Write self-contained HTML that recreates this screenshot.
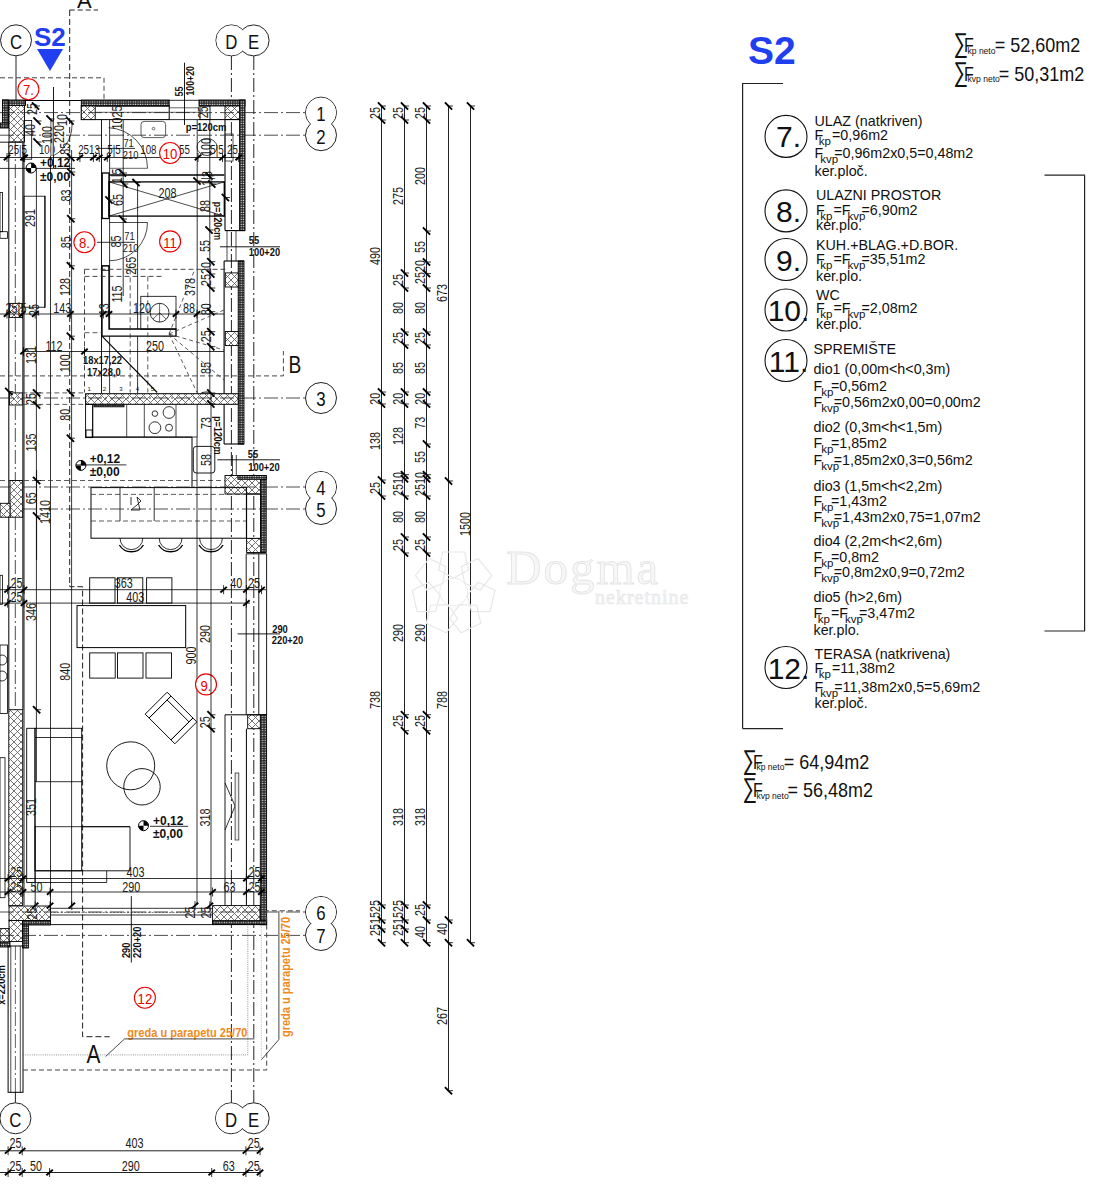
<!DOCTYPE html>
<html><head><meta charset="utf-8"><style>
html,body{margin:0;padding:0;background:#fff;width:1108px;height:1200px;overflow:hidden}
svg{display:block}
text{font-family:"Liberation Sans",sans-serif}
</style></head><body>
<svg width="1108" height="1200" viewBox="0 0 1108 1200">
<defs>
<pattern id="xh" width="7" height="7" patternUnits="userSpaceOnUse"><rect width="7" height="7" fill="#fff"/><path d="M0 0L7 7M7 0L0 7" stroke="#666" stroke-width="0.9"/></pattern>
<pattern id="dots" width="2.4" height="2.4" patternUnits="userSpaceOnUse"><rect width="2.4" height="2.4" fill="#222"/><rect x="0.6" y="0.6" width="1.2" height="1.1" fill="#fff"/></pattern>
</defs>
<rect x="0" y="0" width="1108" height="1200" fill="#fff"/>
<text x="748" y="64" font-size="39" fill="#1f3ff0" text-anchor="start" font-weight="bold">S2</text>
<g transform="translate(953.5 52.4) scale(0.75 1)"><text x="0" y="0" font-size="27" fill="#111">∑</text></g>
<text x="964.0" y="52.4" font-size="20" fill="#111" transform="translate(964.0 52.4) scale(0.8 1) translate(-964.0 -52.4)">F</text>
<g transform="translate(967.5 53.9) scale(0.9 1)"><text x="0" y="0" font-size="9.5" fill="#111">kp neto</text></g>
<g transform="translate(994.8 52.4) scale(0.9 1)"><text x="0" y="0" font-size="20" fill="#111">= 52,60m2</text></g>
<g transform="translate(953.5 80.7) scale(0.75 1)"><text x="0" y="0" font-size="27" fill="#111">∑</text></g>
<text x="964.0" y="80.7" font-size="20" fill="#111" transform="translate(964.0 80.7) scale(0.8 1) translate(-964.0 -80.7)">F</text>
<g transform="translate(967.5 82.2) scale(0.9 1)"><text x="0" y="0" font-size="9.5" fill="#111">kvp neto</text></g>
<g transform="translate(998.7 80.7) scale(0.9 1)"><text x="0" y="0" font-size="20" fill="#111">= 50,31m2</text></g>
<line x1="742.6" y1="83" x2="742.6" y2="728.6" stroke="#222" stroke-width="1.2"/>
<line x1="742.6" y1="83.5" x2="783" y2="83.5" stroke="#222" stroke-width="1.2"/>
<line x1="742.6" y1="728.6" x2="783" y2="728.6" stroke="#222" stroke-width="1.2"/>
<line x1="1084.6" y1="175.2" x2="1084.6" y2="631" stroke="#222" stroke-width="1.2"/>
<line x1="1044.5" y1="175.2" x2="1085" y2="175.2" stroke="#222" stroke-width="1.2"/>
<line x1="1044.5" y1="631" x2="1085" y2="631" stroke="#222" stroke-width="1.2"/>
<circle cx="786" cy="136.4" r="21" stroke="#111" stroke-width="1.1" fill="none"/>
<text x="788.5" y="147.4" font-size="30" fill="#111" text-anchor="middle">7.</text>
<text x="814.5" y="126.3" font-size="14.3" fill="#111" text-anchor="start" font-weight="normal">ULAZ (natkriven)</text>
<text x="814.5" y="140.4" fill="#111"><tspan font-size="14.3" dy="0" dx="0">F</tspan><tspan font-size="11.5" dy="5" dx="-4.5">kp</tspan><tspan font-size="14.3" dy="-5" dx="1.1">=0,96m2</tspan></text>
<text x="814.5" y="158.2" fill="#111"><tspan font-size="14.3" dy="0" dx="0">F</tspan><tspan font-size="11.5" dy="5" dx="-3.0">kvp</tspan><tspan font-size="14.3" dy="-5" dx="-4.0">=0,96m2x0,5=0,48m2</tspan></text>
<text x="814.5" y="175.6" font-size="14.3" fill="#111" text-anchor="start" font-weight="normal">ker.ploč.</text>
<circle cx="786" cy="210.9" r="21" stroke="#111" stroke-width="1.1" fill="none"/>
<text x="788.5" y="221.9" font-size="30" fill="#111" text-anchor="middle">8.</text>
<text x="816.0" y="200.4" font-size="14.3" fill="#111" text-anchor="start" font-weight="normal">ULAZNI PROSTOR</text>
<text x="816.0" y="215" fill="#111"><tspan font-size="14.3" dy="0" dx="0">F</tspan><tspan font-size="11.5" dy="5" dx="-4.5">kp</tspan><tspan font-size="14.3" dy="-5" dx="1.1">=F</tspan><tspan font-size="11.5" dy="5" dx="-3.0">kvp</tspan><tspan font-size="14.3" dy="-5" dx="-4.0">=6,90m2</tspan></text>
<text x="816.0" y="230.2" font-size="14.3" fill="#111" text-anchor="start" font-weight="normal">ker.plo.</text>
<circle cx="786" cy="259.5" r="21" stroke="#111" stroke-width="1.1" fill="none"/>
<text x="788.5" y="270.5" font-size="30" fill="#111" text-anchor="middle">9.</text>
<text x="816.0" y="249.5" font-size="14.3" fill="#111" text-anchor="start" font-weight="normal">KUH.+BLAG.+D.BOR.</text>
<text x="816.0" y="263.6" fill="#111"><tspan font-size="14.3" dy="0" dx="0">F</tspan><tspan font-size="11.5" dy="5" dx="-4.5">kp</tspan><tspan font-size="14.3" dy="-5" dx="1.1">=F</tspan><tspan font-size="11.5" dy="5" dx="-3.0">kvp</tspan><tspan font-size="14.3" dy="-5" dx="-4.0">=35,51m2</tspan></text>
<text x="816.0" y="280.7" font-size="14.3" fill="#111" text-anchor="start" font-weight="normal">ker.plo.</text>
<circle cx="786" cy="310" r="21" stroke="#111" stroke-width="1.1" fill="none"/>
<text x="788.5" y="321" font-size="30" fill="#111" text-anchor="middle">10.</text>
<text x="816.0" y="299.5" font-size="14.3" fill="#111" text-anchor="start" font-weight="normal">WC</text>
<text x="816.0" y="313" fill="#111"><tspan font-size="14.3" dy="0" dx="0">F</tspan><tspan font-size="11.5" dy="5" dx="-4.5">kp</tspan><tspan font-size="14.3" dy="-5" dx="1.1">=F</tspan><tspan font-size="11.5" dy="5" dx="-3.0">kvp</tspan><tspan font-size="14.3" dy="-5" dx="-4.0">=2,08m2</tspan></text>
<text x="816.0" y="328.8" font-size="14.3" fill="#111" text-anchor="start" font-weight="normal">ker.plo.</text>
<circle cx="786" cy="360.5" r="21" stroke="#111" stroke-width="1.1" fill="none"/>
<text x="788.5" y="371.5" font-size="30" fill="#111" text-anchor="middle">11.</text>
<text x="813.5" y="353.5" font-size="14.3" fill="#111" text-anchor="start" font-weight="normal">SPREMIŠTE</text>
<text x="813.5" y="374.4" font-size="14.3" fill="#111" text-anchor="start" font-weight="normal">dio1 (0,00m&lt;h&lt;0,3m)</text>
<text x="813.5" y="390.8" fill="#111"><tspan font-size="14.3" dy="0" dx="0">F</tspan><tspan font-size="11.5" dy="5" dx="-1.0">kp</tspan><tspan font-size="14.3" dy="-5" dx="-2.5">=0,56m2</tspan></text>
<text x="813.5" y="407.3" fill="#111"><tspan font-size="14.3" dy="0" dx="0">F</tspan><tspan font-size="11.5" dy="5" dx="-1.0">kvp</tspan><tspan font-size="14.3" dy="-5" dx="-5.5">=0,56m2x0,00=0,00m2</tspan></text>
<text x="813.5" y="431.9" font-size="14.3" fill="#111" text-anchor="start" font-weight="normal">dio2 (0,3m&lt;h&lt;1,5m)</text>
<text x="813.5" y="448.3" fill="#111"><tspan font-size="14.3" dy="0" dx="0">F</tspan><tspan font-size="11.5" dy="5" dx="-1.0">kp</tspan><tspan font-size="14.3" dy="-5" dx="-2.5">=1,85m2</tspan></text>
<text x="813.5" y="464.8" fill="#111"><tspan font-size="14.3" dy="0" dx="0">F</tspan><tspan font-size="11.5" dy="5" dx="-1.0">kvp</tspan><tspan font-size="14.3" dy="-5" dx="-5.5">=1,85m2x0,3=0,56m2</tspan></text>
<text x="813.5" y="490.6" font-size="14.3" fill="#111" text-anchor="start" font-weight="normal">dio3 (1,5m&lt;h&lt;2,2m)</text>
<text x="813.5" y="505.8" fill="#111"><tspan font-size="14.3" dy="0" dx="0">F</tspan><tspan font-size="11.5" dy="5" dx="-1.0">kp</tspan><tspan font-size="14.3" dy="-5" dx="-2.5">=1,43m2</tspan></text>
<text x="813.5" y="522.3" fill="#111"><tspan font-size="14.3" dy="0" dx="0">F</tspan><tspan font-size="11.5" dy="5" dx="-1.0">kvp</tspan><tspan font-size="14.3" dy="-5" dx="-5.5">=1,43m2x0,75=1,07m2</tspan></text>
<text x="813.5" y="545.7" font-size="14.3" fill="#111" text-anchor="start" font-weight="normal">dio4 (2,2m&lt;h&lt;2,6m)</text>
<text x="813.5" y="562.1" fill="#111"><tspan font-size="14.3" dy="0" dx="0">F</tspan><tspan font-size="11.5" dy="5" dx="-1.0">kp</tspan><tspan font-size="14.3" dy="-5" dx="-2.5">=0,8m2</tspan></text>
<text x="813.5" y="577.4" fill="#111"><tspan font-size="14.3" dy="0" dx="0">F</tspan><tspan font-size="11.5" dy="5" dx="-1.0">kvp</tspan><tspan font-size="14.3" dy="-5" dx="-5.5">=0,8m2x0,9=0,72m2</tspan></text>
<text x="813.5" y="601.7" font-size="14.3" fill="#111" text-anchor="start" font-weight="normal">dio5 (h&gt;2,6m)</text>
<text x="813.5" y="617.7" fill="#111"><tspan font-size="14.3" dy="0" dx="0">F</tspan><tspan font-size="11.5" dy="5" dx="-4.5">kp</tspan><tspan font-size="14.3" dy="-5" dx="1.1">=F</tspan><tspan font-size="11.5" dy="5" dx="-3.0">kvp</tspan><tspan font-size="14.3" dy="-5" dx="-4.0">=3,47m2</tspan></text>
<text x="813.5" y="635" font-size="14.3" fill="#111" text-anchor="start" font-weight="normal">ker.plo.</text>
<circle cx="786" cy="667.5" r="21" stroke="#111" stroke-width="1.1" fill="none"/>
<text x="788.5" y="678.5" font-size="30" fill="#111" text-anchor="middle">12.</text>
<text x="814.5" y="658.5" font-size="14.3" fill="#111" text-anchor="start" font-weight="normal">TERASA (natkrivena)</text>
<text x="814.5" y="672.8" fill="#111"><tspan font-size="14.3" dy="0" dx="0">F</tspan><tspan font-size="11.5" dy="5" dx="-4.5">kp</tspan><tspan font-size="14.3" dy="-5" dx="1.1">=11,38m2</tspan></text>
<text x="814.5" y="691.9" fill="#111"><tspan font-size="14.3" dy="0" dx="0">F</tspan><tspan font-size="11.5" dy="5" dx="-3.0">kvp</tspan><tspan font-size="14.3" dy="-5" dx="-4.0">=11,38m2x0,5=5,69m2</tspan></text>
<text x="814.5" y="707.6" font-size="14.3" fill="#111" text-anchor="start" font-weight="normal">ker.ploč.</text>
<g transform="translate(742.4 768.7) scale(0.75 1)"><text x="0" y="0" font-size="27" fill="#111">∑</text></g>
<text x="752.9" y="768.7" font-size="20" fill="#111" transform="translate(752.9 768.7) scale(0.8 1) translate(-752.9 -768.7)">F</text>
<g transform="translate(756.4 770.2) scale(0.9 1)"><text x="0" y="0" font-size="9.5" fill="#111">kp neto</text></g>
<g transform="translate(783.6999999999999 768.7) scale(0.9 1)"><text x="0" y="0" font-size="20" fill="#111">= 64,94m2</text></g>
<g transform="translate(742.4 797) scale(0.75 1)"><text x="0" y="0" font-size="27" fill="#111">∑</text></g>
<text x="752.9" y="797" font-size="20" fill="#111" transform="translate(752.9 797) scale(0.8 1) translate(-752.9 -797)">F</text>
<g transform="translate(756.4 798.5) scale(0.9 1)"><text x="0" y="0" font-size="9.5" fill="#111">kvp neto</text></g>
<g transform="translate(787.6 797) scale(0.9 1)"><text x="0" y="0" font-size="20" fill="#111">= 56,48m2</text></g>
<line x1="381.5" y1="106" x2="381.5" y2="942.7" stroke="#222" stroke-width="1"/>
<line x1="404.5" y1="106" x2="404.5" y2="942.7" stroke="#222" stroke-width="1"/>
<line x1="426.5" y1="106" x2="426.5" y2="942.7" stroke="#222" stroke-width="1"/>
<line x1="470.5" y1="106" x2="470.5" y2="942.7" stroke="#222" stroke-width="1"/>
<line x1="448.5" y1="106" x2="448.5" y2="1090.7" stroke="#222" stroke-width="1"/>
<line x1="377.9" y1="102.4" x2="385.1" y2="109.6" stroke="#000" stroke-width="1.9"/>
<line x1="380.5" y1="106" x2="386.0" y2="106" stroke="#000" stroke-width="0.8"/>
<line x1="377.9" y1="116.4" x2="385.1" y2="123.6" stroke="#000" stroke-width="1.9"/>
<line x1="380.5" y1="120" x2="386.0" y2="120" stroke="#000" stroke-width="0.8"/>
<line x1="377.9" y1="388.4" x2="385.1" y2="395.6" stroke="#000" stroke-width="1.9"/>
<line x1="380.5" y1="392" x2="386.0" y2="392" stroke="#000" stroke-width="0.8"/>
<line x1="377.9" y1="400.4" x2="385.1" y2="407.6" stroke="#000" stroke-width="1.9"/>
<line x1="380.5" y1="404" x2="386.0" y2="404" stroke="#000" stroke-width="0.8"/>
<line x1="377.9" y1="476.4" x2="385.1" y2="483.6" stroke="#000" stroke-width="1.9"/>
<line x1="380.5" y1="480" x2="386.0" y2="480" stroke="#000" stroke-width="0.8"/>
<line x1="377.9" y1="492.4" x2="385.1" y2="499.6" stroke="#000" stroke-width="1.9"/>
<line x1="380.5" y1="496" x2="386.0" y2="496" stroke="#000" stroke-width="0.8"/>
<line x1="377.9" y1="901.4" x2="385.1" y2="908.6" stroke="#000" stroke-width="1.9"/>
<line x1="380.5" y1="905" x2="386.0" y2="905" stroke="#000" stroke-width="0.8"/>
<line x1="377.9" y1="916.4" x2="385.1" y2="923.6" stroke="#000" stroke-width="1.9"/>
<line x1="380.5" y1="920" x2="386.0" y2="920" stroke="#000" stroke-width="0.8"/>
<line x1="377.9" y1="925.4" x2="385.1" y2="932.6" stroke="#000" stroke-width="1.9"/>
<line x1="380.5" y1="929" x2="386.0" y2="929" stroke="#000" stroke-width="0.8"/>
<line x1="377.9" y1="939.1" x2="385.1" y2="946.3000000000001" stroke="#000" stroke-width="1.9"/>
<line x1="380.5" y1="942.7" x2="386.0" y2="942.7" stroke="#000" stroke-width="0.8"/>
<line x1="400.9" y1="102.4" x2="408.1" y2="109.6" stroke="#000" stroke-width="1.9"/>
<line x1="403.5" y1="106" x2="409.0" y2="106" stroke="#000" stroke-width="0.8"/>
<line x1="400.9" y1="116.4" x2="408.1" y2="123.6" stroke="#000" stroke-width="1.9"/>
<line x1="403.5" y1="120" x2="409.0" y2="120" stroke="#000" stroke-width="0.8"/>
<line x1="400.9" y1="269.4" x2="408.1" y2="276.6" stroke="#000" stroke-width="1.9"/>
<line x1="403.5" y1="273" x2="409.0" y2="273" stroke="#000" stroke-width="0.8"/>
<line x1="400.9" y1="284.4" x2="408.1" y2="291.6" stroke="#000" stroke-width="1.9"/>
<line x1="403.5" y1="288" x2="409.0" y2="288" stroke="#000" stroke-width="0.8"/>
<line x1="400.9" y1="328.4" x2="408.1" y2="335.6" stroke="#000" stroke-width="1.9"/>
<line x1="403.5" y1="332" x2="409.0" y2="332" stroke="#000" stroke-width="0.8"/>
<line x1="400.9" y1="341.4" x2="408.1" y2="348.6" stroke="#000" stroke-width="1.9"/>
<line x1="403.5" y1="345" x2="409.0" y2="345" stroke="#000" stroke-width="0.8"/>
<line x1="400.9" y1="388.4" x2="408.1" y2="395.6" stroke="#000" stroke-width="1.9"/>
<line x1="403.5" y1="392" x2="409.0" y2="392" stroke="#000" stroke-width="0.8"/>
<line x1="400.9" y1="400.4" x2="408.1" y2="407.6" stroke="#000" stroke-width="1.9"/>
<line x1="403.5" y1="404" x2="409.0" y2="404" stroke="#000" stroke-width="0.8"/>
<line x1="400.9" y1="471.09999999999997" x2="408.1" y2="478.3" stroke="#000" stroke-width="1.9"/>
<line x1="403.5" y1="474.7" x2="409.0" y2="474.7" stroke="#000" stroke-width="0.8"/>
<line x1="400.9" y1="475.09999999999997" x2="408.1" y2="482.3" stroke="#000" stroke-width="1.9"/>
<line x1="403.5" y1="478.7" x2="409.0" y2="478.7" stroke="#000" stroke-width="0.8"/>
<line x1="400.9" y1="492.4" x2="408.1" y2="499.6" stroke="#000" stroke-width="1.9"/>
<line x1="403.5" y1="496" x2="409.0" y2="496" stroke="#000" stroke-width="0.8"/>
<line x1="400.9" y1="533.4" x2="408.1" y2="540.6" stroke="#000" stroke-width="1.9"/>
<line x1="403.5" y1="537" x2="409.0" y2="537" stroke="#000" stroke-width="0.8"/>
<line x1="400.9" y1="549.4" x2="408.1" y2="556.6" stroke="#000" stroke-width="1.9"/>
<line x1="403.5" y1="553" x2="409.0" y2="553" stroke="#000" stroke-width="0.8"/>
<line x1="400.9" y1="711.1" x2="408.1" y2="718.3000000000001" stroke="#000" stroke-width="1.9"/>
<line x1="403.5" y1="714.7" x2="409.0" y2="714.7" stroke="#000" stroke-width="0.8"/>
<line x1="400.9" y1="727.1" x2="408.1" y2="734.3000000000001" stroke="#000" stroke-width="1.9"/>
<line x1="403.5" y1="730.7" x2="409.0" y2="730.7" stroke="#000" stroke-width="0.8"/>
<line x1="400.9" y1="901.4" x2="408.1" y2="908.6" stroke="#000" stroke-width="1.9"/>
<line x1="403.5" y1="905" x2="409.0" y2="905" stroke="#000" stroke-width="0.8"/>
<line x1="400.9" y1="916.4" x2="408.1" y2="923.6" stroke="#000" stroke-width="1.9"/>
<line x1="403.5" y1="920" x2="409.0" y2="920" stroke="#000" stroke-width="0.8"/>
<line x1="400.9" y1="925.4" x2="408.1" y2="932.6" stroke="#000" stroke-width="1.9"/>
<line x1="403.5" y1="929" x2="409.0" y2="929" stroke="#000" stroke-width="0.8"/>
<line x1="400.9" y1="939.1" x2="408.1" y2="946.3000000000001" stroke="#000" stroke-width="1.9"/>
<line x1="403.5" y1="942.7" x2="409.0" y2="942.7" stroke="#000" stroke-width="0.8"/>
<line x1="422.9" y1="102.4" x2="430.1" y2="109.6" stroke="#000" stroke-width="1.9"/>
<line x1="425.5" y1="106" x2="431.0" y2="106" stroke="#000" stroke-width="0.8"/>
<line x1="422.9" y1="116.4" x2="430.1" y2="123.6" stroke="#000" stroke-width="1.9"/>
<line x1="425.5" y1="120" x2="431.0" y2="120" stroke="#000" stroke-width="0.8"/>
<line x1="422.9" y1="227.4" x2="430.1" y2="234.6" stroke="#000" stroke-width="1.9"/>
<line x1="425.5" y1="231" x2="431.0" y2="231" stroke="#000" stroke-width="0.8"/>
<line x1="422.9" y1="258.4" x2="430.1" y2="265.6" stroke="#000" stroke-width="1.9"/>
<line x1="425.5" y1="262" x2="431.0" y2="262" stroke="#000" stroke-width="0.8"/>
<line x1="422.9" y1="270.0" x2="430.1" y2="277.20000000000005" stroke="#000" stroke-width="1.9"/>
<line x1="425.5" y1="273.6" x2="431.0" y2="273.6" stroke="#000" stroke-width="0.8"/>
<line x1="422.9" y1="284.4" x2="430.1" y2="291.6" stroke="#000" stroke-width="1.9"/>
<line x1="425.5" y1="288" x2="431.0" y2="288" stroke="#000" stroke-width="0.8"/>
<line x1="422.9" y1="328.4" x2="430.1" y2="335.6" stroke="#000" stroke-width="1.9"/>
<line x1="425.5" y1="332" x2="431.0" y2="332" stroke="#000" stroke-width="0.8"/>
<line x1="422.9" y1="341.4" x2="430.1" y2="348.6" stroke="#000" stroke-width="1.9"/>
<line x1="425.5" y1="345" x2="431.0" y2="345" stroke="#000" stroke-width="0.8"/>
<line x1="422.9" y1="388.4" x2="430.1" y2="395.6" stroke="#000" stroke-width="1.9"/>
<line x1="425.5" y1="392" x2="431.0" y2="392" stroke="#000" stroke-width="0.8"/>
<line x1="422.9" y1="400.4" x2="430.1" y2="407.6" stroke="#000" stroke-width="1.9"/>
<line x1="425.5" y1="404" x2="431.0" y2="404" stroke="#000" stroke-width="0.8"/>
<line x1="422.9" y1="440.4" x2="430.1" y2="447.6" stroke="#000" stroke-width="1.9"/>
<line x1="425.5" y1="444" x2="431.0" y2="444" stroke="#000" stroke-width="0.8"/>
<line x1="422.9" y1="471.09999999999997" x2="430.1" y2="478.3" stroke="#000" stroke-width="1.9"/>
<line x1="425.5" y1="474.7" x2="431.0" y2="474.7" stroke="#000" stroke-width="0.8"/>
<line x1="422.9" y1="475.09999999999997" x2="430.1" y2="482.3" stroke="#000" stroke-width="1.9"/>
<line x1="425.5" y1="478.7" x2="431.0" y2="478.7" stroke="#000" stroke-width="0.8"/>
<line x1="422.9" y1="492.4" x2="430.1" y2="499.6" stroke="#000" stroke-width="1.9"/>
<line x1="425.5" y1="496" x2="431.0" y2="496" stroke="#000" stroke-width="0.8"/>
<line x1="422.9" y1="533.4" x2="430.1" y2="540.6" stroke="#000" stroke-width="1.9"/>
<line x1="425.5" y1="537" x2="431.0" y2="537" stroke="#000" stroke-width="0.8"/>
<line x1="422.9" y1="549.4" x2="430.1" y2="556.6" stroke="#000" stroke-width="1.9"/>
<line x1="425.5" y1="553" x2="431.0" y2="553" stroke="#000" stroke-width="0.8"/>
<line x1="422.9" y1="711.1" x2="430.1" y2="718.3000000000001" stroke="#000" stroke-width="1.9"/>
<line x1="425.5" y1="714.7" x2="431.0" y2="714.7" stroke="#000" stroke-width="0.8"/>
<line x1="422.9" y1="727.1" x2="430.1" y2="734.3000000000001" stroke="#000" stroke-width="1.9"/>
<line x1="425.5" y1="730.7" x2="431.0" y2="730.7" stroke="#000" stroke-width="0.8"/>
<line x1="422.9" y1="901.4" x2="430.1" y2="908.6" stroke="#000" stroke-width="1.9"/>
<line x1="425.5" y1="905" x2="431.0" y2="905" stroke="#000" stroke-width="0.8"/>
<line x1="422.9" y1="916.4" x2="430.1" y2="923.6" stroke="#000" stroke-width="1.9"/>
<line x1="425.5" y1="920" x2="431.0" y2="920" stroke="#000" stroke-width="0.8"/>
<line x1="422.9" y1="939.1" x2="430.1" y2="946.3000000000001" stroke="#000" stroke-width="1.9"/>
<line x1="425.5" y1="942.7" x2="431.0" y2="942.7" stroke="#000" stroke-width="0.8"/>
<line x1="444.9" y1="102.4" x2="452.1" y2="109.6" stroke="#000" stroke-width="1.9"/>
<line x1="447.5" y1="106" x2="453.0" y2="106" stroke="#000" stroke-width="0.8"/>
<line x1="444.9" y1="477.4" x2="452.1" y2="484.6" stroke="#000" stroke-width="1.9"/>
<line x1="447.5" y1="481" x2="453.0" y2="481" stroke="#000" stroke-width="0.8"/>
<line x1="444.9" y1="916.4" x2="452.1" y2="923.6" stroke="#000" stroke-width="1.9"/>
<line x1="447.5" y1="920" x2="453.0" y2="920" stroke="#000" stroke-width="0.8"/>
<line x1="444.9" y1="939.1" x2="452.1" y2="946.3000000000001" stroke="#000" stroke-width="1.9"/>
<line x1="447.5" y1="942.7" x2="453.0" y2="942.7" stroke="#000" stroke-width="0.8"/>
<line x1="444.9" y1="1087.1000000000001" x2="452.1" y2="1094.3" stroke="#000" stroke-width="1.9"/>
<line x1="447.5" y1="1090.7" x2="453.0" y2="1090.7" stroke="#000" stroke-width="0.8"/>
<line x1="466.9" y1="102.4" x2="474.1" y2="109.6" stroke="#000" stroke-width="1.9"/>
<line x1="469.5" y1="106" x2="475.0" y2="106" stroke="#000" stroke-width="0.8"/>
<line x1="466.9" y1="939.1" x2="474.1" y2="946.3000000000001" stroke="#000" stroke-width="1.9"/>
<line x1="469.5" y1="942.7" x2="475.0" y2="942.7" stroke="#000" stroke-width="0.8"/>
<g transform="translate(375 113) rotate(-90) scale(0.72 1)"><text x="0" y="5.40" font-size="15" fill="#1a1a1a" text-anchor="middle" font-weight="normal">25</text></g>
<g transform="translate(397.5 113) rotate(-90) scale(0.72 1)"><text x="0" y="5.40" font-size="15" fill="#1a1a1a" text-anchor="middle" font-weight="normal">25</text></g>
<g transform="translate(420 113) rotate(-90) scale(0.72 1)"><text x="0" y="5.40" font-size="15" fill="#1a1a1a" text-anchor="middle" font-weight="normal">25</text></g>
<g transform="translate(397.5 196) rotate(-90) scale(0.72 1)"><text x="0" y="5.40" font-size="15" fill="#1a1a1a" text-anchor="middle" font-weight="normal">275</text></g>
<g transform="translate(420 176) rotate(-90) scale(0.72 1)"><text x="0" y="5.40" font-size="15" fill="#1a1a1a" text-anchor="middle" font-weight="normal">200</text></g>
<g transform="translate(375 256) rotate(-90) scale(0.72 1)"><text x="0" y="5.40" font-size="15" fill="#1a1a1a" text-anchor="middle" font-weight="normal">490</text></g>
<g transform="translate(420 247) rotate(-90) scale(0.72 1)"><text x="0" y="5.40" font-size="15" fill="#1a1a1a" text-anchor="middle" font-weight="normal">55</text></g>
<g transform="translate(397.5 280) rotate(-90) scale(0.72 1)"><text x="0" y="5.40" font-size="15" fill="#1a1a1a" text-anchor="middle" font-weight="normal">25</text></g>
<g transform="translate(420 272) rotate(-90) scale(0.72 1)"><text x="0" y="5.40" font-size="15" fill="#1a1a1a" text-anchor="middle" font-weight="normal">2520</text></g>
<g transform="translate(397.5 308) rotate(-90) scale(0.72 1)"><text x="0" y="5.40" font-size="15" fill="#1a1a1a" text-anchor="middle" font-weight="normal">80</text></g>
<g transform="translate(420 308) rotate(-90) scale(0.72 1)"><text x="0" y="5.40" font-size="15" fill="#1a1a1a" text-anchor="middle" font-weight="normal">80</text></g>
<g transform="translate(442 293) rotate(-90) scale(0.72 1)"><text x="0" y="5.40" font-size="15" fill="#1a1a1a" text-anchor="middle" font-weight="normal">673</text></g>
<g transform="translate(397.5 338) rotate(-90) scale(0.72 1)"><text x="0" y="5.40" font-size="15" fill="#1a1a1a" text-anchor="middle" font-weight="normal">25</text></g>
<g transform="translate(420 338) rotate(-90) scale(0.72 1)"><text x="0" y="5.40" font-size="15" fill="#1a1a1a" text-anchor="middle" font-weight="normal">25</text></g>
<g transform="translate(397.5 368) rotate(-90) scale(0.72 1)"><text x="0" y="5.40" font-size="15" fill="#1a1a1a" text-anchor="middle" font-weight="normal">85</text></g>
<g transform="translate(420 368) rotate(-90) scale(0.72 1)"><text x="0" y="5.40" font-size="15" fill="#1a1a1a" text-anchor="middle" font-weight="normal">85</text></g>
<g transform="translate(375 398.7) rotate(-90) scale(0.72 1)"><text x="0" y="5.40" font-size="15" fill="#1a1a1a" text-anchor="middle" font-weight="normal">20</text></g>
<g transform="translate(397.5 398.7) rotate(-90) scale(0.72 1)"><text x="0" y="5.40" font-size="15" fill="#1a1a1a" text-anchor="middle" font-weight="normal">20</text></g>
<g transform="translate(420 398.7) rotate(-90) scale(0.72 1)"><text x="0" y="5.40" font-size="15" fill="#1a1a1a" text-anchor="middle" font-weight="normal">20</text></g>
<g transform="translate(375 441) rotate(-90) scale(0.72 1)"><text x="0" y="5.40" font-size="15" fill="#1a1a1a" text-anchor="middle" font-weight="normal">138</text></g>
<g transform="translate(397.5 436) rotate(-90) scale(0.72 1)"><text x="0" y="5.40" font-size="15" fill="#1a1a1a" text-anchor="middle" font-weight="normal">128</text></g>
<g transform="translate(420 422.7) rotate(-90) scale(0.72 1)"><text x="0" y="5.40" font-size="15" fill="#1a1a1a" text-anchor="middle" font-weight="normal">73</text></g>
<g transform="translate(420 457) rotate(-90) scale(0.72 1)"><text x="0" y="5.40" font-size="15" fill="#1a1a1a" text-anchor="middle" font-weight="normal">55</text></g>
<g transform="translate(375 488) rotate(-90) scale(0.72 1)"><text x="0" y="5.40" font-size="15" fill="#1a1a1a" text-anchor="middle" font-weight="normal">25</text></g>
<g transform="translate(397.5 484) rotate(-90) scale(0.72 1)"><text x="0" y="5.40" font-size="15" fill="#1a1a1a" text-anchor="middle" font-weight="normal">2510</text></g>
<g transform="translate(420 484) rotate(-90) scale(0.72 1)"><text x="0" y="5.40" font-size="15" fill="#1a1a1a" text-anchor="middle" font-weight="normal">2510</text></g>
<g transform="translate(397.5 517) rotate(-90) scale(0.72 1)"><text x="0" y="5.40" font-size="15" fill="#1a1a1a" text-anchor="middle" font-weight="normal">80</text></g>
<g transform="translate(420 517) rotate(-90) scale(0.72 1)"><text x="0" y="5.40" font-size="15" fill="#1a1a1a" text-anchor="middle" font-weight="normal">80</text></g>
<g transform="translate(464.8 524) rotate(-90) scale(0.72 1)"><text x="0" y="5.40" font-size="15" fill="#1a1a1a" text-anchor="middle" font-weight="normal">1500</text></g>
<g transform="translate(397.5 545) rotate(-90) scale(0.72 1)"><text x="0" y="5.40" font-size="15" fill="#1a1a1a" text-anchor="middle" font-weight="normal">25</text></g>
<g transform="translate(420 545) rotate(-90) scale(0.72 1)"><text x="0" y="5.40" font-size="15" fill="#1a1a1a" text-anchor="middle" font-weight="normal">25</text></g>
<g transform="translate(397.5 633) rotate(-90) scale(0.72 1)"><text x="0" y="5.40" font-size="15" fill="#1a1a1a" text-anchor="middle" font-weight="normal">290</text></g>
<g transform="translate(420 633) rotate(-90) scale(0.72 1)"><text x="0" y="5.40" font-size="15" fill="#1a1a1a" text-anchor="middle" font-weight="normal">290</text></g>
<g transform="translate(374.7 700) rotate(-90) scale(0.72 1)"><text x="0" y="5.40" font-size="15" fill="#1a1a1a" text-anchor="middle" font-weight="normal">738</text></g>
<g transform="translate(442 700) rotate(-90) scale(0.72 1)"><text x="0" y="5.40" font-size="15" fill="#1a1a1a" text-anchor="middle" font-weight="normal">788</text></g>
<g transform="translate(397.5 721) rotate(-90) scale(0.72 1)"><text x="0" y="5.40" font-size="15" fill="#1a1a1a" text-anchor="middle" font-weight="normal">25</text></g>
<g transform="translate(420 721) rotate(-90) scale(0.72 1)"><text x="0" y="5.40" font-size="15" fill="#1a1a1a" text-anchor="middle" font-weight="normal">25</text></g>
<g transform="translate(397.5 817) rotate(-90) scale(0.72 1)"><text x="0" y="5.40" font-size="15" fill="#1a1a1a" text-anchor="middle" font-weight="normal">318</text></g>
<g transform="translate(420 817) rotate(-90) scale(0.72 1)"><text x="0" y="5.40" font-size="15" fill="#1a1a1a" text-anchor="middle" font-weight="normal">318</text></g>
<g transform="translate(375 918) rotate(-90) scale(0.72 1)"><text x="0" y="5.40" font-size="15" fill="#1a1a1a" text-anchor="middle" font-weight="normal">251525</text></g>
<g transform="translate(397.5 918) rotate(-90) scale(0.72 1)"><text x="0" y="5.40" font-size="15" fill="#1a1a1a" text-anchor="middle" font-weight="normal">251525</text></g>
<g transform="translate(420 910) rotate(-90) scale(0.72 1)"><text x="0" y="5.40" font-size="15" fill="#1a1a1a" text-anchor="middle" font-weight="normal">25</text></g>
<g transform="translate(420 932) rotate(-90) scale(0.72 1)"><text x="0" y="5.40" font-size="15" fill="#1a1a1a" text-anchor="middle" font-weight="normal">40</text></g>
<g transform="translate(442 929) rotate(-90) scale(0.72 1)"><text x="0" y="5.40" font-size="15" fill="#1a1a1a" text-anchor="middle" font-weight="normal">40</text></g>
<g transform="translate(442 1016) rotate(-90) scale(0.72 1)"><text x="0" y="5.40" font-size="15" fill="#1a1a1a" text-anchor="middle" font-weight="normal">267</text></g>
<line x1="0" y1="1150.8" x2="261" y2="1150.8" stroke="#222" stroke-width="1"/>
<line x1="4.8999999999999995" y1="1153.6" x2="11.3" y2="1148.0" stroke="#000" stroke-width="1.9"/>
<line x1="8.1" y1="1155.3" x2="8.1" y2="1146.3" stroke="#000" stroke-width="0.8"/>
<line x1="19.0" y1="1153.6" x2="25.4" y2="1148.0" stroke="#000" stroke-width="1.9"/>
<line x1="22.2" y1="1155.3" x2="22.2" y2="1146.3" stroke="#000" stroke-width="0.8"/>
<line x1="242.70000000000002" y1="1153.6" x2="249.1" y2="1148.0" stroke="#000" stroke-width="1.9"/>
<line x1="245.9" y1="1155.3" x2="245.9" y2="1146.3" stroke="#000" stroke-width="0.8"/>
<line x1="256.8" y1="1153.6" x2="263.2" y2="1148.0" stroke="#000" stroke-width="1.9"/>
<line x1="260" y1="1155.3" x2="260" y2="1146.3" stroke="#000" stroke-width="0.8"/>
<line x1="0" y1="1172.5" x2="261" y2="1172.5" stroke="#222" stroke-width="1"/>
<line x1="4.8999999999999995" y1="1175.3" x2="11.3" y2="1169.7" stroke="#000" stroke-width="1.9"/>
<line x1="8.1" y1="1177.0" x2="8.1" y2="1168.0" stroke="#000" stroke-width="0.8"/>
<line x1="19.0" y1="1175.3" x2="25.4" y2="1169.7" stroke="#000" stroke-width="1.9"/>
<line x1="22.2" y1="1177.0" x2="22.2" y2="1168.0" stroke="#000" stroke-width="0.8"/>
<line x1="46.4" y1="1175.3" x2="52.800000000000004" y2="1169.7" stroke="#000" stroke-width="1.9"/>
<line x1="49.6" y1="1177.0" x2="49.6" y2="1168.0" stroke="#000" stroke-width="0.8"/>
<line x1="208.5" y1="1175.3" x2="214.89999999999998" y2="1169.7" stroke="#000" stroke-width="1.9"/>
<line x1="211.7" y1="1177.0" x2="211.7" y2="1168.0" stroke="#000" stroke-width="0.8"/>
<line x1="242.70000000000002" y1="1175.3" x2="249.1" y2="1169.7" stroke="#000" stroke-width="1.9"/>
<line x1="245.9" y1="1177.0" x2="245.9" y2="1168.0" stroke="#000" stroke-width="0.8"/>
<line x1="256.8" y1="1175.3" x2="263.2" y2="1169.7" stroke="#000" stroke-width="1.9"/>
<line x1="260" y1="1177.0" x2="260" y2="1168.0" stroke="#000" stroke-width="0.8"/>
<g transform="translate(15.4 1143) scale(0.72 1)"><text x="0" y="5.40" font-size="15" fill="#1a1a1a" text-anchor="middle" font-weight="normal">25</text></g>
<g transform="translate(134.6 1143) scale(0.72 1)"><text x="0" y="5.40" font-size="15" fill="#1a1a1a" text-anchor="middle" font-weight="normal">403</text></g>
<g transform="translate(253.7 1143) scale(0.72 1)"><text x="0" y="5.40" font-size="15" fill="#1a1a1a" text-anchor="middle" font-weight="normal">25</text></g>
<g transform="translate(15.4 1166) scale(0.72 1)"><text x="0" y="5.40" font-size="15" fill="#1a1a1a" text-anchor="middle" font-weight="normal">25</text></g>
<g transform="translate(36 1166) scale(0.72 1)"><text x="0" y="5.40" font-size="15" fill="#1a1a1a" text-anchor="middle" font-weight="normal">50</text></g>
<g transform="translate(130.8 1166) scale(0.72 1)"><text x="0" y="5.40" font-size="15" fill="#1a1a1a" text-anchor="middle" font-weight="normal">290</text></g>
<g transform="translate(228.8 1166) scale(0.72 1)"><text x="0" y="5.40" font-size="15" fill="#1a1a1a" text-anchor="middle" font-weight="normal">63</text></g>
<g transform="translate(253.7 1166) scale(0.72 1)"><text x="0" y="5.40" font-size="15" fill="#1a1a1a" text-anchor="middle" font-weight="normal">25</text></g>
<line x1="16" y1="56" x2="16" y2="100" stroke="#222" stroke-width="1"/>
<line x1="231.4" y1="56" x2="231.4" y2="1103" stroke="#222" stroke-width="1" stroke-dasharray="14 3 2 3"/>
<line x1="253.8" y1="56" x2="253.8" y2="1103" stroke="#222" stroke-width="1" stroke-dasharray="14 3 2 3"/>
<line x1="15.4" y1="1092" x2="15.4" y2="1103" stroke="#222" stroke-width="1"/>
<circle cx="16" cy="40.3" r="15.5" stroke="#222" stroke-width="1" fill="#fff"/>
<g transform="translate(16 41.099999999999994) scale(0.8 1)"><text x="0" y="7.56" font-size="21" fill="#111" text-anchor="middle" font-weight="normal">C</text></g>
<circle cx="231.4" cy="40.4" r="15.5" stroke="#222" stroke-width="1" fill="#fff"/>
<circle cx="253.6" cy="40.4" r="15.5" stroke="#222" stroke-width="1" fill="#fff"/>
<circle cx="231.4" cy="40.4" r="14.9" fill="#fff"/>
<g transform="translate(231.4 41.199999999999996) scale(0.8 1)"><text x="0" y="7.56" font-size="21" fill="#111" text-anchor="middle" font-weight="normal">D</text></g>
<g transform="translate(253.6 41.199999999999996) scale(0.8 1)"><text x="0" y="7.56" font-size="21" fill="#111" text-anchor="middle" font-weight="normal">E</text></g>
<circle cx="15.4" cy="1118.3" r="15.5" stroke="#222" stroke-width="1" fill="#fff"/>
<g transform="translate(15.4 1119.1) scale(0.8 1)"><text x="0" y="7.56" font-size="21" fill="#111" text-anchor="middle" font-weight="normal">C</text></g>
<circle cx="231" cy="1118.3" r="15.5" stroke="#222" stroke-width="1" fill="#fff"/>
<circle cx="253.7" cy="1118.3" r="15.5" stroke="#222" stroke-width="1" fill="#fff"/>
<circle cx="231" cy="1118.3" r="14.9" fill="#fff"/>
<g transform="translate(231 1119.1) scale(0.8 1)"><text x="0" y="7.56" font-size="21" fill="#111" text-anchor="middle" font-weight="normal">D</text></g>
<g transform="translate(253.7 1119.1) scale(0.8 1)"><text x="0" y="7.56" font-size="21" fill="#111" text-anchor="middle" font-weight="normal">E</text></g>
<circle cx="321" cy="112.6" r="15.5" stroke="#222" stroke-width="1" fill="#fff"/>
<circle cx="321" cy="135.2" r="15.5" stroke="#222" stroke-width="1" fill="#fff"/>
<circle cx="321" cy="112.6" r="14.9" fill="#fff"/>
<g transform="translate(321 113.39999999999999) scale(0.8 1)"><text x="0" y="7.56" font-size="21" fill="#111" text-anchor="middle" font-weight="normal">1</text></g>
<g transform="translate(321 136.0) scale(0.8 1)"><text x="0" y="7.56" font-size="21" fill="#111" text-anchor="middle" font-weight="normal">2</text></g>
<circle cx="321" cy="398" r="15.5" stroke="#222" stroke-width="1" fill="#fff"/>
<g transform="translate(321 398.8) scale(0.8 1)"><text x="0" y="7.56" font-size="21" fill="#111" text-anchor="middle" font-weight="normal">3</text></g>
<circle cx="321" cy="487" r="15.5" stroke="#222" stroke-width="1" fill="#fff"/>
<circle cx="321" cy="509" r="15.5" stroke="#222" stroke-width="1" fill="#fff"/>
<circle cx="321" cy="487" r="14.9" fill="#fff"/>
<g transform="translate(321 487.8) scale(0.8 1)"><text x="0" y="7.56" font-size="21" fill="#111" text-anchor="middle" font-weight="normal">4</text></g>
<g transform="translate(321 509.8) scale(0.8 1)"><text x="0" y="7.56" font-size="21" fill="#111" text-anchor="middle" font-weight="normal">5</text></g>
<circle cx="321" cy="912" r="15.5" stroke="#222" stroke-width="1" fill="#fff"/>
<circle cx="321" cy="935" r="15.5" stroke="#222" stroke-width="1" fill="#fff"/>
<circle cx="321" cy="912" r="14.9" fill="#fff"/>
<g transform="translate(321 912.8) scale(0.8 1)"><text x="0" y="7.56" font-size="21" fill="#111" text-anchor="middle" font-weight="normal">6</text></g>
<g transform="translate(321 935.8) scale(0.8 1)"><text x="0" y="7.56" font-size="21" fill="#111" text-anchor="middle" font-weight="normal">7</text></g>
<path d="M69.7 10 L98 10" fill="none" stroke="#222" stroke-width="1" stroke-dasharray="5 3"/>
<line x1="69.7" y1="10" x2="69.7" y2="585.4" stroke="#222" stroke-width="1" stroke-dasharray="6 3"/>
<text x="77" y="8" font-size="22" fill="#111" text-anchor="start" font-weight="normal">A</text>
<path d="M0 77.8 L104 77.8 L104 100" fill="none" stroke="#444" stroke-width="1" stroke-dasharray="5 3"/>
<text x="34" y="46" font-size="26" fill="#1f3ff0" text-anchor="start" font-weight="bold">S2</text>
<path d="M37 49 L63 49 L50 71 Z" fill="#1f3ff0" stroke="#1f3ff0" stroke-width="0"/>
<circle cx="28.4" cy="89.3" r="10.5" stroke="#e00" stroke-width="1.1" fill="#fff"/>
<g transform="translate(28.4 89.89999999999999) scale(0.85 1)"><text x="0" y="5.58" font-size="15.5" fill="#e00" text-anchor="middle" font-weight="normal">7.</text></g>
<rect x="2.5" y="100" width="23" height="5.5" fill="url(#dots)" stroke="#000" stroke-width="0.9"/>
<rect x="2.5" y="100" width="6" height="24" fill="url(#dots)" stroke="#000" stroke-width="0.9"/>
<rect x="0" y="123" width="8.5" height="5" fill="url(#dots)" stroke="#000" stroke-width="0.9"/>
<rect x="9" y="105.5" width="15.5" height="36.5" fill="url(#xh)" stroke="#000" stroke-width="0.9"/>
<line x1="25.5" y1="100.5" x2="81.3" y2="100.5" stroke="#000" stroke-width="1"/>
<line x1="53.5" y1="87" x2="53.5" y2="168" stroke="#000" stroke-width="0.9"/>
<line x1="31.9" y1="102.4" x2="39.1" y2="109.6" stroke="#000" stroke-width="1.9"/>
<line x1="34.5" y1="106" x2="40.0" y2="106" stroke="#000" stroke-width="0.8"/>
<line x1="33.4" y1="117.4" x2="40.6" y2="124.6" stroke="#000" stroke-width="1.9"/>
<line x1="36" y1="121" x2="41.5" y2="121" stroke="#000" stroke-width="0.8"/>
<line x1="46.4" y1="115.4" x2="53.6" y2="122.6" stroke="#000" stroke-width="1.9"/>
<line x1="49" y1="119" x2="54.5" y2="119" stroke="#000" stroke-width="0.8"/>
<line x1="66.4" y1="117.4" x2="73.6" y2="124.6" stroke="#000" stroke-width="1.9"/>
<line x1="69" y1="121" x2="74.5" y2="121" stroke="#000" stroke-width="0.8"/>
<line x1="33.4" y1="138.4" x2="40.6" y2="145.6" stroke="#000" stroke-width="1.9"/>
<line x1="36" y1="142" x2="41.5" y2="142" stroke="#000" stroke-width="0.8"/>
<line x1="0" y1="142.2" x2="22.9" y2="142.2" stroke="#000" stroke-width="0.9"/>
<rect x="81.3" y="100" width="87.9" height="6" fill="url(#dots)" stroke="#000" stroke-width="0.9"/>
<rect x="81.3" y="106" width="87.9" height="13.6" stroke="#000" stroke-width="1" fill="none"/>
<rect x="81.3" y="106" width="13.9" height="13.6" fill="url(#xh)" stroke="#000" stroke-width="0.9"/>
<line x1="95.2" y1="112.3" x2="169.2" y2="112.3" stroke="#000" stroke-width="0.6"/>
<line x1="169.2" y1="100.3" x2="199" y2="100.3" stroke="#000" stroke-width="0.8"/>
<line x1="169.2" y1="107.8" x2="199" y2="107.8" stroke="#000" stroke-width="0.6"/>
<line x1="169.2" y1="112.3" x2="199" y2="112.3" stroke="#000" stroke-width="0.6"/>
<line x1="169.2" y1="119.6" x2="199" y2="119.6" stroke="#000" stroke-width="0.8"/>
<rect x="199" y="100" width="46" height="6" fill="url(#dots)" stroke="#000" stroke-width="0.9"/>
<rect x="239.6" y="100" width="5.4" height="130.6" fill="url(#dots)" stroke="#000" stroke-width="0.9"/>
<rect x="200" y="106" width="10" height="13.6" stroke="#000" stroke-width="0.9" fill="none"/>
<rect x="225" y="106" width="14.6" height="13.6" fill="url(#xh)" stroke="#000" stroke-width="0.9"/>
<line x1="199" y1="119.6" x2="239.6" y2="119.6" stroke="#000" stroke-width="1"/>
<line x1="225" y1="119.6" x2="225" y2="230.6" stroke="#000" stroke-width="1.1"/>
<line x1="225" y1="230.6" x2="245" y2="230.6" stroke="#000" stroke-width="1.1"/>
<line x1="0" y1="112.6" x2="305" y2="112.6" stroke="#222" stroke-width="0.8" stroke-dasharray="14 3 2 3"/>
<line x1="0" y1="135.2" x2="305" y2="135.2" stroke="#222" stroke-width="0.8" stroke-dasharray="14 3 2 3"/>
<line x1="184.5" y1="62.7" x2="184.5" y2="125" stroke="#000" stroke-width="0.9"/>
<g transform="translate(179 91.6) rotate(-90) scale(0.8 1)"><text x="0" y="3.96" font-size="11" fill="#111" text-anchor="middle" font-weight="bold">55</text></g>
<g transform="translate(190 80.8) rotate(-90) scale(0.8 1)"><text x="0" y="3.96" font-size="11" fill="#111" text-anchor="middle" font-weight="bold">100+20</text></g>
<g transform="translate(206 127) scale(0.9 1)"><text x="0" y="3.78" font-size="10.5" fill="#111" text-anchor="middle" font-weight="bold">p=120cm</text></g>
<rect x="141" y="121.4" width="24.6" height="16.2" rx="3" fill="none" stroke="#333" stroke-width="0.8"/>
<circle cx="153.5" cy="128.6" r="1.3" stroke="#333" stroke-width="0.7" fill="none"/>
<ellipse cx="207" cy="147" rx="10" ry="8.5" fill="none" stroke="#333" stroke-width="0.9"/>
<rect x="225" y="134" width="8" height="27" stroke="#333" stroke-width="0.8" fill="none"/>
<line x1="0" y1="157.5" x2="240" y2="157.5" stroke="#000" stroke-width="0.8"/>
<line x1="3.8" y1="160.3" x2="10.2" y2="154.7" stroke="#000" stroke-width="1.9"/>
<line x1="7" y1="162.0" x2="7" y2="153.0" stroke="#000" stroke-width="0.8"/>
<line x1="20.3" y1="160.3" x2="26.7" y2="154.7" stroke="#000" stroke-width="1.9"/>
<line x1="23.5" y1="162.0" x2="23.5" y2="153.0" stroke="#000" stroke-width="0.8"/>
<line x1="21.400000000000002" y1="160.3" x2="27.8" y2="154.7" stroke="#000" stroke-width="1.9"/>
<line x1="24.6" y1="162.0" x2="24.6" y2="153.0" stroke="#000" stroke-width="0.8"/>
<line x1="76.7" y1="160.3" x2="83.10000000000001" y2="154.7" stroke="#000" stroke-width="1.9"/>
<line x1="79.9" y1="162.0" x2="79.9" y2="153.0" stroke="#000" stroke-width="0.8"/>
<line x1="90.2" y1="160.3" x2="96.60000000000001" y2="154.7" stroke="#000" stroke-width="1.9"/>
<line x1="93.4" y1="162.0" x2="93.4" y2="153.0" stroke="#000" stroke-width="0.8"/>
<line x1="96.1" y1="160.3" x2="102.5" y2="154.7" stroke="#000" stroke-width="1.9"/>
<line x1="99.3" y1="162.0" x2="99.3" y2="153.0" stroke="#000" stroke-width="0.8"/>
<line x1="104.1" y1="160.3" x2="110.5" y2="154.7" stroke="#000" stroke-width="1.9"/>
<line x1="107.3" y1="162.0" x2="107.3" y2="153.0" stroke="#000" stroke-width="0.8"/>
<line x1="165.10000000000002" y1="160.3" x2="171.5" y2="154.7" stroke="#000" stroke-width="1.9"/>
<line x1="168.3" y1="162.0" x2="168.3" y2="153.0" stroke="#000" stroke-width="0.8"/>
<line x1="194.8" y1="160.3" x2="201.2" y2="154.7" stroke="#000" stroke-width="1.9"/>
<line x1="198" y1="162.0" x2="198" y2="153.0" stroke="#000" stroke-width="0.8"/>
<line x1="219.3" y1="160.3" x2="225.7" y2="154.7" stroke="#000" stroke-width="1.9"/>
<line x1="222.5" y1="162.0" x2="222.5" y2="153.0" stroke="#000" stroke-width="0.8"/>
<line x1="235.5" y1="160.3" x2="241.89999999999998" y2="154.7" stroke="#000" stroke-width="1.9"/>
<line x1="238.7" y1="162.0" x2="238.7" y2="153.0" stroke="#000" stroke-width="0.8"/>
<g transform="translate(17.6 149.4) scale(0.78 1)"><text x="0" y="4.50" font-size="12.5" fill="#1a1a1a" text-anchor="middle" font-weight="normal">25|5</text></g>
<g transform="translate(47 149.4) scale(0.78 1)"><text x="0" y="4.50" font-size="12.5" fill="#1a1a1a" text-anchor="middle" font-weight="normal">100</text></g>
<g transform="translate(89 149.4) scale(0.78 1)"><text x="0" y="4.50" font-size="12.5" fill="#1a1a1a" text-anchor="middle" font-weight="normal">2513</text></g>
<g transform="translate(114 149.4) scale(0.78 1)"><text x="0" y="4.50" font-size="12.5" fill="#1a1a1a" text-anchor="middle" font-weight="normal">5|5</text></g>
<g transform="translate(148.4 149.4) scale(0.78 1)"><text x="0" y="4.50" font-size="12.5" fill="#1a1a1a" text-anchor="middle" font-weight="normal">108</text></g>
<g transform="translate(184.5 149.4) scale(0.78 1)"><text x="0" y="4.50" font-size="12.5" fill="#1a1a1a" text-anchor="middle" font-weight="normal">55</text></g>
<g transform="translate(217 149.4) scale(0.78 1)"><text x="0" y="4.50" font-size="12.5" fill="#1a1a1a" text-anchor="middle" font-weight="normal">5|5</text></g>
<g transform="translate(232.4 149.4) scale(0.78 1)"><text x="0" y="4.50" font-size="12.5" fill="#1a1a1a" text-anchor="middle" font-weight="normal">25</text></g>
<g transform="translate(65 148.7) rotate(-90) scale(0.72 1)"><text x="0" y="5.40" font-size="15" fill="#1a1a1a" text-anchor="middle" font-weight="normal">85</text></g>
<g transform="translate(206 147) rotate(-90) scale(0.72 1)"><text x="0" y="5.40" font-size="15" fill="#1a1a1a" text-anchor="middle" font-weight="normal">100</text></g>
<g transform="translate(128.6 143.3) scale(0.85 1)"><text x="0" y="3.96" font-size="11" fill="#1a1a1a" text-anchor="middle" font-weight="normal">71</text></g>
<g transform="translate(130.6 154.8) scale(0.85 1)"><text x="0" y="3.96" font-size="11" fill="#1a1a1a" text-anchor="middle" font-weight="normal">210</text></g>
<line x1="96" y1="148.4" x2="135" y2="148.4" stroke="#000" stroke-width="0.8"/>
<circle cx="170.1" cy="153" r="10.5" stroke="#e00" stroke-width="1.1" fill="#fff"/>
<g transform="translate(170.1 153.6) scale(0.85 1)"><text x="0" y="5.58" font-size="15.5" fill="#e00" text-anchor="middle" font-weight="normal">10</text></g>
<line x1="101.5" y1="119.6" x2="101.5" y2="393" stroke="#000" stroke-width="0.9"/>
<line x1="109.6" y1="119.6" x2="109.6" y2="393" stroke="#000" stroke-width="0.8"/>
<line x1="123.2" y1="119.6" x2="123.2" y2="296" stroke="#000" stroke-width="0.8"/>
<path d="M108.7 127.7 A40.6 40.6 0 0 1 147.5 168.3" fill="none" stroke="#000" stroke-width="0.7"/>
<line x1="147.5" y1="168.3" x2="110" y2="168.3" stroke="#000" stroke-width="0.6"/>
<rect x="24" y="120.5" width="7.7" height="38.7" stroke="#000" stroke-width="0.8" fill="none"/>
<rect x="50.5" y="121.7" width="2.9" height="34" stroke="#555" stroke-width="0.5" fill="#bbb"/>
<path d="M53.4 155.7 A34 34 0 0 0 71.6 120.5" fill="none" stroke="#000" stroke-width="0.7"/>
<g transform="translate(32 109) rotate(-90) scale(0.72 1)"><text x="0" y="5.40" font-size="15" fill="#1a1a1a" text-anchor="middle" font-weight="normal">25</text></g>
<g transform="translate(30 130) rotate(-90) scale(0.72 1)"><text x="0" y="5.40" font-size="15" fill="#1a1a1a" text-anchor="middle" font-weight="normal">40</text></g>
<g transform="translate(47 135) rotate(-90) scale(0.72 1)"><text x="0" y="5.40" font-size="15" fill="#1a1a1a" text-anchor="middle" font-weight="normal">100</text></g>
<g transform="translate(59 134) rotate(-90) scale(0.72 1)"><text x="0" y="5.40" font-size="15" fill="#1a1a1a" text-anchor="middle" font-weight="normal">220</text></g>
<g transform="translate(62 120) rotate(-90) scale(0.72 1)"><text x="0" y="5.40" font-size="15" fill="#1a1a1a" text-anchor="middle" font-weight="normal">10</text></g>
<text x="39.9" y="166.8" font-size="12" fill="#111" text-anchor="start" font-weight="bold">+0,12</text>
<text x="39.9" y="181" font-size="12" fill="#111" text-anchor="start" font-weight="bold">±0,00</text>
<line x1="0" y1="168.4" x2="75" y2="168.4" stroke="#000" stroke-width="0.8"/>
<circle cx="31.1" cy="168" r="5" stroke="#000" stroke-width="1" fill="#fff"/>
<path d="M31.1 163 A5 5 0 0 1 36.1 168 L31.1 168 Z" fill="#000" stroke="#000" stroke-width="0"/>
<path d="M31.1 173 A5 5 0 0 1 26.1 168 L31.1 168 Z" fill="#000" stroke="#000" stroke-width="0"/>
<line x1="8.8" y1="142.2" x2="8.8" y2="709.7" stroke="#000" stroke-width="1"/>
<line x1="22.9" y1="142.2" x2="22.9" y2="709.7" stroke="#000" stroke-width="1"/>
<line x1="15.3" y1="142" x2="15.3" y2="709.7" stroke="#222" stroke-width="0.8" stroke-dasharray="14 3 2 3"/>
<line x1="24" y1="159" x2="24" y2="905" stroke="#000" stroke-width="0.9"/>
<line x1="36.4" y1="168" x2="36.4" y2="781.7" stroke="#000" stroke-width="0.8"/>
<line x1="50.5" y1="156" x2="50.5" y2="905" stroke="#000" stroke-width="0.8"/>
<line x1="71.6" y1="150" x2="71.6" y2="905" stroke="#000" stroke-width="0.8"/>
<rect x="24" y="196.2" width="21.2" height="111" stroke="#000" stroke-width="0.8" fill="none"/>
<g transform="translate(30 218) rotate(-90) scale(0.72 1)"><text x="0" y="5.40" font-size="15" fill="#1a1a1a" text-anchor="middle" font-weight="normal">291</text></g>
<rect x="0" y="192.5" width="2.5" height="39.2" stroke="#000" stroke-width="0.8" fill="none"/>
<rect x="0" y="231.7" width="7.5" height="6.6" stroke="#000" stroke-width="0.8" fill="none"/>
<line x1="67.2" y1="153.9" x2="74.39999999999999" y2="161.1" stroke="#000" stroke-width="1.9"/>
<line x1="69.8" y1="157.5" x2="75.3" y2="157.5" stroke="#000" stroke-width="0.8"/>
<line x1="67.2" y1="168.4" x2="74.39999999999999" y2="175.6" stroke="#000" stroke-width="1.9"/>
<line x1="69.8" y1="172" x2="75.3" y2="172" stroke="#000" stroke-width="0.8"/>
<line x1="67.2" y1="215.20000000000002" x2="74.39999999999999" y2="222.4" stroke="#000" stroke-width="1.9"/>
<line x1="69.8" y1="218.8" x2="75.3" y2="218.8" stroke="#000" stroke-width="0.8"/>
<g transform="translate(65.1 195.6) rotate(-90) scale(0.72 1)"><text x="0" y="5.40" font-size="15" fill="#1a1a1a" text-anchor="middle" font-weight="normal">83</text></g>
<g transform="translate(65.4 242.3) rotate(-90) scale(0.72 1)"><text x="0" y="5.40" font-size="15" fill="#1a1a1a" text-anchor="middle" font-weight="normal">85</text></g>
<rect x="102.2" y="173" width="6.8" height="45.5" stroke="#000" stroke-width="1.3" fill="#fff"/>
<line x1="109" y1="175.1" x2="224.3" y2="175.1" stroke="#000" stroke-width="1.5"/>
<rect x="109" y="181.9" width="115.3" height="34.2" stroke="#000" stroke-width="1.3" fill="none"/>
<line x1="109" y1="181.9" x2="224.3" y2="216.1" stroke="#000" stroke-width="0.7"/>
<line x1="224.3" y1="181.9" x2="109" y2="216.1" stroke="#000" stroke-width="0.7"/>
<line x1="118.9" y1="169.4" x2="126.1" y2="176.6" stroke="#000" stroke-width="1.9"/>
<line x1="121.5" y1="173" x2="127.0" y2="173" stroke="#000" stroke-width="0.8"/>
<line x1="120.2" y1="180.4" x2="127.39999999999999" y2="187.6" stroke="#000" stroke-width="1.9"/>
<line x1="122.8" y1="184" x2="128.3" y2="184" stroke="#000" stroke-width="0.8"/>
<line x1="132.4" y1="179.0" x2="139.6" y2="186.2" stroke="#000" stroke-width="1.9"/>
<line x1="135" y1="182.6" x2="140.5" y2="182.6" stroke="#000" stroke-width="0.8"/>
<line x1="193.4" y1="177.4" x2="200.6" y2="184.6" stroke="#000" stroke-width="1.9"/>
<line x1="196" y1="181" x2="201.5" y2="181" stroke="#000" stroke-width="0.8"/>
<line x1="205.4" y1="172.4" x2="212.6" y2="179.6" stroke="#000" stroke-width="1.9"/>
<line x1="208" y1="176" x2="213.5" y2="176" stroke="#000" stroke-width="0.8"/>
<line x1="208.20000000000002" y1="180.4" x2="215.4" y2="187.6" stroke="#000" stroke-width="1.9"/>
<line x1="210.8" y1="184" x2="216.3" y2="184" stroke="#000" stroke-width="0.8"/>
<line x1="105.4" y1="196.4" x2="112.6" y2="203.6" stroke="#000" stroke-width="1.9"/>
<line x1="108" y1="200" x2="113.5" y2="200" stroke="#000" stroke-width="0.8"/>
<line x1="118.9" y1="215.4" x2="126.1" y2="222.6" stroke="#000" stroke-width="1.9"/>
<line x1="121.5" y1="219" x2="127.0" y2="219" stroke="#000" stroke-width="0.8"/>
<line x1="221.8" y1="193.9" x2="229.0" y2="201.1" stroke="#000" stroke-width="1.9"/>
<line x1="224.4" y1="197.5" x2="229.9" y2="197.5" stroke="#000" stroke-width="0.8"/>
<line x1="205.4" y1="226.4" x2="212.6" y2="233.6" stroke="#000" stroke-width="1.9"/>
<line x1="208" y1="230" x2="213.5" y2="230" stroke="#000" stroke-width="0.8"/>
<g transform="translate(117 175.8) rotate(-90) scale(0.72 1)"><text x="0" y="5.40" font-size="15" fill="#1a1a1a" text-anchor="middle" font-weight="normal">1|5</text></g>
<g transform="translate(206.4 178.5) rotate(-90) scale(0.72 1)"><text x="0" y="5.40" font-size="15" fill="#1a1a1a" text-anchor="middle" font-weight="normal">1|3</text></g>
<g transform="translate(117 117.6) rotate(-90) scale(0.72 1)"><text x="0" y="5.40" font-size="15" fill="#1a1a1a" text-anchor="middle" font-weight="normal">1025</text></g>
<g transform="translate(202.4 112.2) rotate(-90) scale(0.72 1)"><text x="0" y="5.40" font-size="15" fill="#1a1a1a" text-anchor="middle" font-weight="normal">25</text></g>
<g transform="translate(167.4 192.7) scale(0.72 1)"><text x="0" y="5.40" font-size="15" fill="#1a1a1a" text-anchor="middle" font-weight="normal">208</text></g>
<g transform="translate(117.8 200) rotate(-90) scale(0.72 1)"><text x="0" y="5.40" font-size="15" fill="#1a1a1a" text-anchor="middle" font-weight="normal">65</text></g>
<g transform="translate(204.4 206) rotate(-90) scale(0.72 1)"><text x="0" y="5.40" font-size="15" fill="#1a1a1a" text-anchor="middle" font-weight="normal">88</text></g>
<g transform="translate(204.4 246) rotate(-90) scale(0.72 1)"><text x="0" y="5.40" font-size="15" fill="#1a1a1a" text-anchor="middle" font-weight="normal">55</text></g>
<g transform="translate(217.3 221) rotate(90) scale(0.85 1)"><text x="0" y="3.78" font-size="10.5" fill="#111" text-anchor="middle" font-weight="bold">p=120cm</text></g>
<line x1="137.6" y1="182.7" x2="137.6" y2="393" stroke="#000" stroke-width="0.8"/>
<line x1="197.2" y1="119.6" x2="197.2" y2="437.6" stroke="#000" stroke-width="0.8"/>
<line x1="209.8" y1="119.6" x2="209.8" y2="393" stroke="#000" stroke-width="0.8"/>
<line x1="109.2" y1="222.5" x2="147.5" y2="222.5" stroke="#000" stroke-width="0.7"/>
<path d="M147.5 222.5 A38.3 38.3 0 0 1 109.2 260.8" fill="none" stroke="#000" stroke-width="0.7"/>
<circle cx="84.4" cy="242.3" r="10.5" stroke="#e00" stroke-width="1.1" fill="#fff"/>
<g transform="translate(84.4 242.9) scale(0.85 1)"><text x="0" y="5.58" font-size="15.5" fill="#e00" text-anchor="middle" font-weight="normal">8.</text></g>
<circle cx="170.1" cy="241.4" r="10.5" stroke="#e00" stroke-width="1.1" fill="#fff"/>
<g transform="translate(170.1 242.0) scale(0.85 1)"><text x="0" y="5.58" font-size="15.5" fill="#e00" text-anchor="middle" font-weight="normal">11</text></g>
<g transform="translate(116 241.4) rotate(-90) scale(0.72 1)"><text x="0" y="5.40" font-size="15" fill="#1a1a1a" text-anchor="middle" font-weight="normal">85</text></g>
<g transform="translate(129.5 236) scale(0.85 1)"><text x="0" y="3.96" font-size="11" fill="#1a1a1a" text-anchor="middle" font-weight="normal">71</text></g>
<g transform="translate(130.6 247.7) scale(0.85 1)"><text x="0" y="3.96" font-size="11" fill="#1a1a1a" text-anchor="middle" font-weight="normal">210</text></g>
<line x1="97" y1="242.3" x2="135" y2="242.3" stroke="#000" stroke-width="0.8"/>
<rect x="238.2" y="261" width="5.8" height="183" fill="url(#dots)" stroke="#000" stroke-width="0.9"/>
<line x1="224.1" y1="261" x2="224.1" y2="444" stroke="#000" stroke-width="1.1"/>
<line x1="224.1" y1="444" x2="244" y2="444" stroke="#000" stroke-width="1.1"/>
<line x1="224.1" y1="261" x2="244" y2="261" stroke="#000" stroke-width="1.1"/>
<rect x="225.3" y="272.9" width="12.9" height="14.1" fill="url(#xh)" stroke="#000" stroke-width="0.9"/>
<rect x="225.3" y="331.5" width="12.9" height="14.1" fill="url(#xh)" stroke="#000" stroke-width="0.9"/>
<line x1="227" y1="230.6" x2="227" y2="261" stroke="#000" stroke-width="0.7"/>
<line x1="236" y1="230.6" x2="236" y2="261" stroke="#000" stroke-width="0.7"/>
<line x1="219.9" y1="246.8" x2="280" y2="246.8" stroke="#000" stroke-width="0.9"/>
<g transform="translate(254 240.5) scale(0.85 1)"><text x="0" y="3.96" font-size="11" fill="#111" text-anchor="middle" font-weight="bold">55</text></g>
<g transform="translate(264.5 252.5) scale(0.85 1)"><text x="0" y="3.96" font-size="11" fill="#111" text-anchor="middle" font-weight="bold">100+20</text></g>
<path d="M102 265.8 L109 265.8 L109 329 L176 329 L176 336.2 L102 336.2 Z" fill="#fff" stroke="#000" stroke-width="1.3"/>
<rect x="102" y="265.8" width="7" height="4.5" stroke="#000" stroke-width="0.8" fill="none"/>
<path d="M84.5 269.3 L225.3 269.3" fill="none" stroke="#333" stroke-width="0.9" stroke-dasharray="5 3"/>
<path d="M84.5 276.4 L164 276.4" fill="none" stroke="#333" stroke-width="0.9" stroke-dasharray="5 3"/>
<path d="M84.5 269.3 L84.5 392.5" fill="none" stroke="#333" stroke-width="0.9" stroke-dasharray="5 3"/>
<path d="M130.2 269.3 L130.2 392.5" fill="none" stroke="#333" stroke-width="0.8" stroke-dasharray="5 3"/>
<path d="M147.8 276.4 L147.8 392.5" fill="none" stroke="#333" stroke-width="0.8" stroke-dasharray="5 3"/>
<path d="M84.5 332.7 L102 332.7" fill="none" stroke="#333" stroke-width="0.8" stroke-dasharray="5 3"/>
<path d="M169 334 L195 269" fill="none" stroke="#333" stroke-width="0.8" stroke-dasharray="4 3"/>
<path d="M169 334 L224 310" fill="none" stroke="#333" stroke-width="0.8" stroke-dasharray="4 3"/>
<path d="M169 334 L224 350" fill="none" stroke="#333" stroke-width="0.8" stroke-dasharray="4 3"/>
<path d="M169 334 L224 380" fill="none" stroke="#333" stroke-width="0.8" stroke-dasharray="4 3"/>
<path d="M169 334 L197 392.5" fill="none" stroke="#333" stroke-width="0.8" stroke-dasharray="4 3"/>
<rect x="140.8" y="296.3" width="35.2" height="32.9" stroke="#000" stroke-width="0.8" fill="none"/>
<circle cx="159.6" cy="312.7" r="9.4" stroke="#000" stroke-width="0.8" fill="none"/>
<line x1="159.6" y1="303.3" x2="159.6" y2="322.1" stroke="#000" stroke-width="0.6"/>
<line x1="159.6" y1="312.7" x2="153" y2="319" stroke="#000" stroke-width="0.6"/>
<line x1="159.6" y1="312.7" x2="166" y2="319" stroke="#000" stroke-width="0.6"/>
<line x1="102" y1="336.2" x2="157.2" y2="392.5" stroke="#000" stroke-width="1.1"/>
<g transform="translate(130.2 265.8) rotate(-90) scale(0.72 1)"><text x="0" y="5.40" font-size="15" fill="#1a1a1a" text-anchor="middle" font-weight="normal">265</text></g>
<g transform="translate(116.2 294) rotate(-90) scale(0.72 1)"><text x="0" y="5.40" font-size="15" fill="#1a1a1a" text-anchor="middle" font-weight="normal">115</text></g>
<g transform="translate(103.3 309.2) rotate(-90) scale(0.72 1)"><text x="0" y="5.40" font-size="15" fill="#1a1a1a" text-anchor="middle" font-weight="normal">13</text></g>
<g transform="translate(190 287) rotate(-90) scale(0.72 1)"><text x="0" y="5.40" font-size="15" fill="#1a1a1a" text-anchor="middle" font-weight="normal">378</text></g>
<g transform="translate(205.3 274) rotate(-90) scale(0.72 1)"><text x="0" y="5.40" font-size="15" fill="#1a1a1a" text-anchor="middle" font-weight="normal">2520</text></g>
<g transform="translate(205.3 309.2) rotate(-90) scale(0.72 1)"><text x="0" y="5.40" font-size="15" fill="#1a1a1a" text-anchor="middle" font-weight="normal">80</text></g>
<g transform="translate(205.3 336.2) rotate(-90) scale(0.72 1)"><text x="0" y="5.40" font-size="15" fill="#1a1a1a" text-anchor="middle" font-weight="normal">25</text></g>
<g transform="translate(205.3 368) rotate(-90) scale(0.72 1)"><text x="0" y="5.40" font-size="15" fill="#1a1a1a" text-anchor="middle" font-weight="normal">85</text></g>
<g transform="translate(205.3 397) rotate(-90) scale(0.72 1)"><text x="0" y="5.40" font-size="15" fill="#1a1a1a" text-anchor="middle" font-weight="normal">20</text></g>
<g transform="translate(205.3 423) rotate(-90) scale(0.72 1)"><text x="0" y="5.40" font-size="15" fill="#1a1a1a" text-anchor="middle" font-weight="normal">73</text></g>
<g transform="translate(217.3 435.5) rotate(90) scale(0.85 1)"><text x="0" y="3.78" font-size="10.5" fill="#111" text-anchor="middle" font-weight="bold">p=120cm</text></g>
<g transform="translate(142 308) scale(0.72 1)"><text x="0" y="5.40" font-size="15" fill="#1a1a1a" text-anchor="middle" font-weight="normal">120</text></g>
<g transform="translate(189 308) scale(0.72 1)"><text x="0" y="5.40" font-size="15" fill="#1a1a1a" text-anchor="middle" font-weight="normal">88</text></g>
<g transform="translate(154.9 345.6) scale(0.72 1)"><text x="0" y="5.40" font-size="15" fill="#1a1a1a" text-anchor="middle" font-weight="normal">250</text></g>
<g transform="translate(83 364) scale(0.85 1)"><text x="0" y="0" font-size="11" fill="#111" text-anchor="start" font-weight="bold">18x17,22</text></g>
<g transform="translate(87 375.5) scale(0.85 1)"><text x="0" y="0" font-size="11" fill="#111" text-anchor="start" font-weight="bold">17x28,0</text></g>
<g transform="translate(89.2 389) scale(1 1)"><text x="0" y="2.16" font-size="6" fill="#111" text-anchor="middle" font-weight="normal">1</text></g>
<g transform="translate(104.4 389) scale(1 1)"><text x="0" y="2.16" font-size="6" fill="#111" text-anchor="middle" font-weight="normal">2</text></g>
<g transform="translate(120.8 389) scale(1 1)"><text x="0" y="2.16" font-size="6" fill="#111" text-anchor="middle" font-weight="normal">3</text></g>
<g transform="translate(137.3 389) scale(1 1)"><text x="0" y="2.16" font-size="6" fill="#111" text-anchor="middle" font-weight="normal">4</text></g>
<g transform="translate(152.5 389) scale(1 1)"><text x="0" y="2.16" font-size="6" fill="#111" text-anchor="middle" font-weight="normal">5</text></g>
<rect x="85.6" y="393.7" width="152.6" height="10.6" fill="url(#xh)" stroke="#000" stroke-width="1"/>
<rect x="85.6" y="404.3" width="7.1" height="33" stroke="#000" stroke-width="0.9" fill="none"/>
<line x1="92.7" y1="404.3" x2="92.7" y2="437" stroke="#000" stroke-width="0.8"/>
<line x1="126.7" y1="404.3" x2="126.7" y2="437" stroke="#000" stroke-width="0.7"/>
<line x1="144.3" y1="404.3" x2="144.3" y2="437" stroke="#000" stroke-width="0.7"/>
<line x1="176" y1="404.3" x2="176" y2="437" stroke="#000" stroke-width="0.7"/>
<line x1="92.7" y1="437" x2="197" y2="437" stroke="#000" stroke-width="0.8"/>
<circle cx="154.9" cy="413.6" r="2.8" stroke="#000" stroke-width="0.8" fill="none"/>
<circle cx="169" cy="412.5" r="5.9" stroke="#000" stroke-width="0.8" fill="none"/>
<circle cx="154.9" cy="427.7" r="5.9" stroke="#000" stroke-width="0.8" fill="none"/>
<circle cx="169" cy="427.7" r="3.5" stroke="#000" stroke-width="0.8" fill="none"/>
<rect x="94" y="404.3" width="30" height="2.5" fill="url(#dots)" stroke="#000" stroke-width="0.9"/>
<rect x="9.4" y="303.4" width="12.9" height="14" fill="url(#xh)" stroke="#000" stroke-width="0.9"/>
<rect x="9.5" y="392.9" width="12.8" height="12.1" fill="url(#xh)" stroke="#000" stroke-width="0.9"/>
<line x1="0" y1="314" x2="224" y2="314" stroke="#000" stroke-width="0.8"/>
<line x1="3.8" y1="316.8" x2="10.2" y2="311.2" stroke="#000" stroke-width="1.9"/>
<line x1="7" y1="318.5" x2="7" y2="309.5" stroke="#000" stroke-width="0.8"/>
<line x1="19.1" y1="316.8" x2="25.5" y2="311.2" stroke="#000" stroke-width="1.9"/>
<line x1="22.3" y1="318.5" x2="22.3" y2="309.5" stroke="#000" stroke-width="0.8"/>
<line x1="32.0" y1="316.8" x2="38.400000000000006" y2="311.2" stroke="#000" stroke-width="1.9"/>
<line x1="35.2" y1="318.5" x2="35.2" y2="309.5" stroke="#000" stroke-width="0.8"/>
<line x1="67.2" y1="316.8" x2="73.60000000000001" y2="311.2" stroke="#000" stroke-width="1.9"/>
<line x1="70.4" y1="318.5" x2="70.4" y2="309.5" stroke="#000" stroke-width="0.8"/>
<line x1="100.1" y1="316.8" x2="106.5" y2="311.2" stroke="#000" stroke-width="1.9"/>
<line x1="103.3" y1="318.5" x2="103.3" y2="309.5" stroke="#000" stroke-width="0.8"/>
<line x1="105.8" y1="316.8" x2="112.2" y2="311.2" stroke="#000" stroke-width="1.9"/>
<line x1="109" y1="318.5" x2="109" y2="309.5" stroke="#000" stroke-width="0.8"/>
<line x1="172.8" y1="316.8" x2="179.2" y2="311.2" stroke="#000" stroke-width="1.9"/>
<line x1="176" y1="318.5" x2="176" y2="309.5" stroke="#000" stroke-width="0.8"/>
<line x1="193.8" y1="316.8" x2="200.2" y2="311.2" stroke="#000" stroke-width="1.9"/>
<line x1="197" y1="318.5" x2="197" y2="309.5" stroke="#000" stroke-width="0.8"/>
<g transform="translate(16 308) scale(0.72 1)"><text x="0" y="5.40" font-size="15" fill="#1a1a1a" text-anchor="middle" font-weight="normal">25|5</text></g>
<g transform="translate(62.2 308) scale(0.72 1)"><text x="0" y="5.40" font-size="15" fill="#1a1a1a" text-anchor="middle" font-weight="normal">143</text></g>
<g transform="translate(33.3 310) rotate(-90) scale(0.72 1)"><text x="0" y="5.40" font-size="15" fill="#1a1a1a" text-anchor="middle" font-weight="normal">25</text></g>
<line x1="23.5" y1="351.5" x2="224" y2="351.5" stroke="#000" stroke-width="0.8"/>
<line x1="20.3" y1="354.3" x2="26.7" y2="348.7" stroke="#000" stroke-width="1.9"/>
<line x1="23.5" y1="356.0" x2="23.5" y2="347.0" stroke="#000" stroke-width="0.8"/>
<line x1="81.3" y1="354.3" x2="87.7" y2="348.7" stroke="#000" stroke-width="1.9"/>
<line x1="84.5" y1="356.0" x2="84.5" y2="347.0" stroke="#000" stroke-width="0.8"/>
<g transform="translate(54 345.6) scale(0.72 1)"><text x="0" y="5.40" font-size="15" fill="#1a1a1a" text-anchor="middle" font-weight="normal">112</text></g>
<g transform="translate(30.5 355) rotate(-90) scale(0.72 1)"><text x="0" y="5.40" font-size="15" fill="#1a1a1a" text-anchor="middle" font-weight="normal">131</text></g>
<line x1="66.80000000000001" y1="262.2" x2="74.0" y2="269.40000000000003" stroke="#000" stroke-width="1.9"/>
<line x1="69.4" y1="265.8" x2="74.9" y2="265.8" stroke="#000" stroke-width="0.8"/>
<line x1="66.80000000000001" y1="332.59999999999997" x2="74.0" y2="339.8" stroke="#000" stroke-width="1.9"/>
<line x1="69.4" y1="336.2" x2="74.9" y2="336.2" stroke="#000" stroke-width="0.8"/>
<line x1="66.80000000000001" y1="389.29999999999995" x2="74.0" y2="396.5" stroke="#000" stroke-width="1.9"/>
<line x1="69.4" y1="392.9" x2="74.9" y2="392.9" stroke="#000" stroke-width="0.8"/>
<line x1="66.80000000000001" y1="434.59999999999997" x2="74.0" y2="441.8" stroke="#000" stroke-width="1.9"/>
<line x1="69.4" y1="438.2" x2="74.9" y2="438.2" stroke="#000" stroke-width="0.8"/>
<g transform="translate(64.5 287) rotate(-90) scale(0.72 1)"><text x="0" y="5.40" font-size="15" fill="#1a1a1a" text-anchor="middle" font-weight="normal">128</text></g>
<g transform="translate(64.5 363.2) rotate(-90) scale(0.72 1)"><text x="0" y="5.40" font-size="15" fill="#1a1a1a" text-anchor="middle" font-weight="normal">100</text></g>
<g transform="translate(64.5 414.8) rotate(-90) scale(0.72 1)"><text x="0" y="5.40" font-size="15" fill="#1a1a1a" text-anchor="middle" font-weight="normal">80</text></g>
<g transform="translate(31 399) rotate(-90) scale(0.72 1)"><text x="0" y="5.40" font-size="15" fill="#1a1a1a" text-anchor="middle" font-weight="normal">25</text></g>
<line x1="33.0" y1="389.29999999999995" x2="40.2" y2="396.5" stroke="#000" stroke-width="1.9"/>
<line x1="35.6" y1="392.9" x2="41.1" y2="392.9" stroke="#000" stroke-width="0.8"/>
<line x1="33.0" y1="401.4" x2="40.2" y2="408.6" stroke="#000" stroke-width="1.9"/>
<line x1="35.6" y1="405" x2="41.1" y2="405" stroke="#000" stroke-width="0.8"/>
<line x1="5.200000000000001" y1="387.9" x2="12.4" y2="395.1" stroke="#000" stroke-width="1.9"/>
<line x1="7.800000000000001" y1="391.5" x2="13.3" y2="391.5" stroke="#000" stroke-width="0.8"/>
<path d="M22.3 392.9 L85.6 392.9" fill="none" stroke="#333" stroke-width="0.8" stroke-dasharray="5 3"/>
<path d="M22.3 404.4 L85.6 404.4" fill="none" stroke="#333" stroke-width="0.8" stroke-dasharray="5 3"/>
<line x1="44.6" y1="196" x2="44.6" y2="308" stroke="#000" stroke-width="0.8"/>
<path d="M0 375.9 L283.4 375.9 L283.4 351" fill="none" stroke="#333" stroke-width="0.9" stroke-dasharray="5 3"/>
<line x1="0" y1="398" x2="305" y2="398" stroke="#222" stroke-width="0.8" stroke-dasharray="14 3 2 3"/>
<g transform="translate(288.5 372.6) scale(0.8 1)"><text x="0" y="0" font-size="24" fill="#111">B</text></g>
<path d="M85.7 437.2 L192 437.2 L192 487.8" fill="none" stroke="#000" stroke-width="1"/>
<rect x="86" y="430" width="6.2" height="7.6" stroke="#000" stroke-width="0.9" fill="none"/>
<rect x="193.3" y="446.4" width="21.5" height="26.6" rx="3" fill="none" stroke="#000" stroke-width="0.9"/>
<g transform="translate(206 460) rotate(-90) scale(0.72 1)"><text x="0" y="5.40" font-size="15" fill="#1a1a1a" text-anchor="middle" font-weight="normal">58</text></g>
<circle cx="80.9" cy="465.4" r="5" stroke="#000" stroke-width="1" fill="#fff"/>
<path d="M80.9 460.4 A5 5 0 0 1 85.9 465.4 L80.9 465.4 Z" fill="#000" stroke="#000" stroke-width="0"/>
<path d="M80.9 470.4 A5 5 0 0 1 75.9 465.4 L80.9 465.4 Z" fill="#000" stroke="#000" stroke-width="0"/>
<text x="89.7" y="462.5" font-size="12" fill="#111" text-anchor="start" font-weight="bold">+0,12</text>
<text x="89.7" y="476" font-size="12" fill="#111" text-anchor="start" font-weight="bold">±0,00</text>
<line x1="75.8" y1="464.9" x2="126.4" y2="464.9" stroke="#000" stroke-width="0.8"/>
<path d="M69.7 585.4 L69.7 586.7 L82.6 586.7 L82.6 1036.7 L109.7 1036.7" fill="none" stroke="#222" stroke-width="1" stroke-dasharray="6 3"/>
<rect x="225" y="475.5" width="35.7" height="18.5" fill="url(#xh)" stroke="#000" stroke-width="0.9"/>
<rect x="260.7" y="475.5" width="5.5" height="77" fill="url(#dots)" stroke="#000" stroke-width="0.9"/>
<rect x="237.9" y="475.5" width="28.3" height="3.8" fill="url(#dots)" stroke="#000" stroke-width="0.9"/>
<rect x="246.6" y="494" width="14.1" height="44.4" stroke="#000" stroke-width="1" fill="none"/>
<rect x="246.6" y="538.4" width="14.1" height="14.1" fill="url(#xh)" stroke="#000" stroke-width="0.9"/>
<line x1="246.4" y1="553.8" x2="266.6" y2="553.8" stroke="#000" stroke-width="1"/>
<line x1="232.5" y1="455" x2="232.5" y2="475.5" stroke="#000" stroke-width="0.7"/>
<line x1="236.3" y1="455" x2="236.3" y2="475.5" stroke="#000" stroke-width="0.7"/>
<line x1="217.3" y1="459.8" x2="280" y2="459.8" stroke="#000" stroke-width="0.9"/>
<g transform="translate(253 454) scale(0.85 1)"><text x="0" y="3.96" font-size="11" fill="#111" text-anchor="middle" font-weight="bold">55</text></g>
<g transform="translate(264 466.6) scale(0.85 1)"><text x="0" y="3.96" font-size="11" fill="#111" text-anchor="middle" font-weight="bold">100+20</text></g>
<rect x="91" y="487.6" width="155.4" height="50.6" stroke="#000" stroke-width="1" fill="none"/>
<path d="M91 494.4 L246.4 494.4" fill="none" stroke="#333" stroke-width="0.8" stroke-dasharray="5 3"/>
<path d="M91 521 L246.4 521" fill="none" stroke="#333" stroke-width="0.8" stroke-dasharray="5 3"/>
<line x1="120" y1="487.6" x2="120" y2="521" stroke="#000" stroke-width="0.8"/>
<line x1="154.2" y1="487.6" x2="154.2" y2="521" stroke="#000" stroke-width="0.8"/>
<path d="M131 505 L131 497 M137 497 L141 501 L137 505 L131 510 L140 510 Z" fill="none" stroke="#000" stroke-width="0.8"/>
<line x1="0" y1="487" x2="305" y2="487" stroke="#222" stroke-width="0.8" stroke-dasharray="14 3 2 3"/>
<line x1="0" y1="509" x2="305" y2="509" stroke="#222" stroke-width="0.8" stroke-dasharray="14 3 2 3"/>
<path d="M0 480.5 L225 480.5" fill="none" stroke="#333" stroke-width="0.8" stroke-dasharray="5 3"/>
<path d="M120.0 538.2 A11.4 11.4 0 0 0 142.8 538.2" fill="none" stroke="#000" stroke-width="0.8"/>
<path d="M119.4 545 A14 14 0 0 0 143.4 545" fill="none" stroke="#000" stroke-width="1.4"/>
<path d="M159.2 538.2 A11.4 11.4 0 0 0 182.0 538.2" fill="none" stroke="#000" stroke-width="0.8"/>
<path d="M158.6 545 A14 14 0 0 0 182.6 545" fill="none" stroke="#000" stroke-width="1.4"/>
<path d="M199.6 538.2 A11.4 11.4 0 0 0 222.4 538.2" fill="none" stroke="#000" stroke-width="0.8"/>
<path d="M199 545 A14 14 0 0 0 223 545" fill="none" stroke="#000" stroke-width="1.4"/>
<rect x="10" y="480.5" width="12.7" height="36.7" fill="url(#xh)" stroke="#000" stroke-width="0.9"/>
<rect x="0" y="503.3" width="10" height="13.9" fill="url(#xh)" stroke="#000" stroke-width="0.9"/>
<line x1="36.6" y1="470" x2="36.6" y2="560" stroke="#000" stroke-width="0.8"/>
<line x1="33.0" y1="476.9" x2="40.2" y2="484.1" stroke="#000" stroke-width="1.9"/>
<line x1="35.6" y1="480.5" x2="41.1" y2="480.5" stroke="#000" stroke-width="0.8"/>
<line x1="33.0" y1="512.4" x2="40.2" y2="519.6" stroke="#000" stroke-width="1.9"/>
<line x1="35.6" y1="516" x2="41.1" y2="516" stroke="#000" stroke-width="0.8"/>
<g transform="translate(30.3 498.2) rotate(-90) scale(0.72 1)"><text x="0" y="5.40" font-size="15" fill="#1a1a1a" text-anchor="middle" font-weight="normal">65</text></g>
<g transform="translate(44.2 512) rotate(-90) scale(0.72 1)"><text x="0" y="5.40" font-size="15" fill="#1a1a1a" text-anchor="middle" font-weight="normal">1410</text></g>
<g transform="translate(30.3 442.6) rotate(-90) scale(0.72 1)"><text x="0" y="5.40" font-size="15" fill="#1a1a1a" text-anchor="middle" font-weight="normal">135</text></g>
<line x1="197" y1="437.6" x2="197" y2="905" stroke="#000" stroke-width="0.8"/>
<line x1="0" y1="589.7" x2="266" y2="589.7" stroke="#000" stroke-width="0.8"/>
<line x1="4.3999999999999995" y1="592.5" x2="10.8" y2="586.9000000000001" stroke="#000" stroke-width="1.9"/>
<line x1="7.6" y1="594.2" x2="7.6" y2="585.2" stroke="#000" stroke-width="0.8"/>
<line x1="20.8" y1="592.5" x2="27.2" y2="586.9000000000001" stroke="#000" stroke-width="1.9"/>
<line x1="24" y1="594.2" x2="24" y2="585.2" stroke="#000" stroke-width="0.8"/>
<line x1="220.4" y1="592.5" x2="226.79999999999998" y2="586.9000000000001" stroke="#000" stroke-width="1.9"/>
<line x1="223.6" y1="594.2" x2="223.6" y2="585.2" stroke="#000" stroke-width="0.8"/>
<line x1="243.20000000000002" y1="592.5" x2="249.6" y2="586.9000000000001" stroke="#000" stroke-width="1.9"/>
<line x1="246.4" y1="594.2" x2="246.4" y2="585.2" stroke="#000" stroke-width="0.8"/>
<line x1="258.40000000000003" y1="592.5" x2="264.8" y2="586.9000000000001" stroke="#000" stroke-width="1.9"/>
<line x1="261.6" y1="594.2" x2="261.6" y2="585.2" stroke="#000" stroke-width="0.8"/>
<g transform="translate(16.4 583) scale(0.72 1)"><text x="0" y="5.40" font-size="15" fill="#1a1a1a" text-anchor="middle" font-weight="normal">25</text></g>
<g transform="translate(123.8 583) scale(0.72 1)"><text x="0" y="5.40" font-size="15" fill="#1a1a1a" text-anchor="middle" font-weight="normal">363</text></g>
<g transform="translate(236.3 583) scale(0.72 1)"><text x="0" y="5.40" font-size="15" fill="#1a1a1a" text-anchor="middle" font-weight="normal">40</text></g>
<g transform="translate(254 583) scale(0.72 1)"><text x="0" y="5.40" font-size="15" fill="#1a1a1a" text-anchor="middle" font-weight="normal">25</text></g>
<line x1="0" y1="603.1" x2="250" y2="603.1" stroke="#000" stroke-width="0.8"/>
<line x1="4.3999999999999995" y1="605.9" x2="10.8" y2="600.3000000000001" stroke="#000" stroke-width="1.9"/>
<line x1="7.6" y1="607.6" x2="7.6" y2="598.6" stroke="#000" stroke-width="0.8"/>
<line x1="20.8" y1="605.9" x2="27.2" y2="600.3000000000001" stroke="#000" stroke-width="1.9"/>
<line x1="24" y1="607.6" x2="24" y2="598.6" stroke="#000" stroke-width="0.8"/>
<line x1="243.20000000000002" y1="605.9" x2="249.6" y2="600.3000000000001" stroke="#000" stroke-width="1.9"/>
<line x1="246.4" y1="607.6" x2="246.4" y2="598.6" stroke="#000" stroke-width="0.8"/>
<g transform="translate(16.4 596.8) scale(0.72 1)"><text x="0" y="5.40" font-size="15" fill="#1a1a1a" text-anchor="middle" font-weight="normal">25</text></g>
<g transform="translate(135.2 596.8) scale(0.72 1)"><text x="0" y="5.40" font-size="15" fill="#1a1a1a" text-anchor="middle" font-weight="normal">403</text></g>
<rect x="89.7" y="577.8" width="25.3" height="25.3" stroke="#000" stroke-width="0.9" fill="none"/>
<rect x="117.5" y="577.8" width="25.3" height="25.3" stroke="#000" stroke-width="0.9" fill="none"/>
<rect x="146.6" y="577.8" width="25.3" height="25.3" stroke="#000" stroke-width="0.9" fill="none"/>
<rect x="77" y="605.6" width="108.7" height="42" stroke="#000" stroke-width="1" fill="none"/>
<g transform="translate(30.3 612) rotate(-90) scale(0.72 1)"><text x="0" y="5.40" font-size="15" fill="#1a1a1a" text-anchor="middle" font-weight="normal">346</text></g>
<rect x="0" y="575.3" width="2.5" height="29" stroke="#000" stroke-width="0.8" fill="none"/>
<line x1="207.20000000000002" y1="258.09999999999997" x2="214.4" y2="265.3" stroke="#000" stroke-width="1.9"/>
<line x1="209.8" y1="261.7" x2="215.3" y2="261.7" stroke="#000" stroke-width="0.8"/>
<line x1="207.20000000000002" y1="270.4" x2="214.4" y2="277.6" stroke="#000" stroke-width="1.9"/>
<line x1="209.8" y1="274" x2="215.3" y2="274" stroke="#000" stroke-width="0.8"/>
<line x1="207.20000000000002" y1="284.4" x2="214.4" y2="291.6" stroke="#000" stroke-width="1.9"/>
<line x1="209.8" y1="288" x2="215.3" y2="288" stroke="#000" stroke-width="0.8"/>
<line x1="207.20000000000002" y1="308.09999999999997" x2="214.4" y2="315.3" stroke="#000" stroke-width="1.9"/>
<line x1="209.8" y1="311.7" x2="215.3" y2="311.7" stroke="#000" stroke-width="0.8"/>
<line x1="207.20000000000002" y1="328.09999999999997" x2="214.4" y2="335.3" stroke="#000" stroke-width="1.9"/>
<line x1="209.8" y1="331.7" x2="215.3" y2="331.7" stroke="#000" stroke-width="0.8"/>
<line x1="207.20000000000002" y1="343.09999999999997" x2="214.4" y2="350.3" stroke="#000" stroke-width="1.9"/>
<line x1="209.8" y1="346.7" x2="215.3" y2="346.7" stroke="#000" stroke-width="0.8"/>
<line x1="207.20000000000002" y1="389.4" x2="214.4" y2="396.6" stroke="#000" stroke-width="1.9"/>
<line x1="209.8" y1="393" x2="215.3" y2="393" stroke="#000" stroke-width="0.8"/>
<line x1="207.20000000000002" y1="400.4" x2="214.4" y2="407.6" stroke="#000" stroke-width="1.9"/>
<line x1="209.8" y1="404" x2="215.3" y2="404" stroke="#000" stroke-width="0.8"/>
<g transform="translate(64.4 671.8) rotate(-90) scale(0.72 1)"><text x="0" y="5.40" font-size="15" fill="#1a1a1a" text-anchor="middle" font-weight="normal">840</text></g>
<g transform="translate(190.8 655.4) rotate(-90) scale(0.72 1)"><text x="0" y="5.40" font-size="15" fill="#1a1a1a" text-anchor="middle" font-weight="normal">900</text></g>
<g transform="translate(204.7 634) rotate(-90) scale(0.72 1)"><text x="0" y="5.40" font-size="15" fill="#1a1a1a" text-anchor="middle" font-weight="normal">290</text></g>
<circle cx="206" cy="684.4" r="10.5" stroke="#e00" stroke-width="1.1" fill="#fff"/>
<g transform="translate(206 685.0) scale(0.85 1)"><text x="0" y="5.58" font-size="15.5" fill="#e00" text-anchor="middle" font-weight="normal">9.</text></g>
<rect x="89.7" y="652.9" width="25.5" height="25.2" stroke="#000" stroke-width="0.9" fill="none"/>
<rect x="117.5" y="652.9" width="25.5" height="25.2" stroke="#000" stroke-width="0.9" fill="none"/>
<rect x="146" y="652.9" width="25.5" height="25.2" stroke="#000" stroke-width="0.9" fill="none"/>
<g transform="translate(171 718) rotate(45)" fill="none" stroke="#000" stroke-width="0.9"><rect x="-15.5" y="-15.5" width="31" height="31"/><rect x="-21" y="-15.5" width="5.5" height="31"/><rect x="15.5" y="-15.5" width="5.5" height="31"/><line x1="-15.5" y1="-10" x2="15.5" y2="-10"/></g>
<circle cx="130.7" cy="765.8" r="24" stroke="#000" stroke-width="0.9" fill="none"/>
<circle cx="142" cy="786.8" r="18.2" stroke="#000" stroke-width="0.9" fill="none"/>
<rect x="26.7" y="728.3" width="8.3" height="154.2" stroke="#000" stroke-width="0.9" fill="none"/>
<rect x="35" y="728.3" width="46.7" height="142.5" stroke="#000" stroke-width="0.9" fill="none"/>
<line x1="35" y1="737.5" x2="81.7" y2="737.5" stroke="#000" stroke-width="0.8"/>
<line x1="35" y1="781.7" x2="81.7" y2="781.7" stroke="#000" stroke-width="0.8"/>
<line x1="35" y1="826.7" x2="130" y2="826.7" stroke="#000" stroke-width="0.8"/>
<path d="M81.7 826.7 L130 826.7 L130 870.8 L35 870.8" fill="none" stroke="#000" stroke-width="0.9"/>
<path d="M35 882.5 L106.7 882.5 L106.7 870.8" fill="none" stroke="#000" stroke-width="0.8"/>
<rect x="8.8" y="709.7" width="13.9" height="196" fill="url(#xh)" stroke="#000" stroke-width="0.9"/>
<rect x="260.3" y="714.8" width="6.3" height="210" fill="url(#dots)" stroke="#000" stroke-width="0.9"/>
<rect x="247.7" y="714.8" width="12.6" height="13.9" fill="url(#xh)" stroke="#000" stroke-width="0.9"/>
<line x1="225" y1="714.8" x2="266.6" y2="714.8" stroke="#000" stroke-width="1"/>
<line x1="225" y1="714.8" x2="225" y2="905.6" stroke="#000" stroke-width="0.9"/>
<line x1="246.4" y1="728.7" x2="246.4" y2="905.6" stroke="#000" stroke-width="1"/>
<line x1="246.2" y1="553.8" x2="246.2" y2="714.8" stroke="#000" stroke-width="0.9"/>
<line x1="258.8" y1="553.8" x2="258.8" y2="714.8" stroke="#000" stroke-width="0.9"/>
<line x1="266.6" y1="553.8" x2="266.6" y2="714.8" stroke="#000" stroke-width="0.9"/>
<line x1="211" y1="393" x2="211" y2="905.6" stroke="#000" stroke-width="0.8"/>
<line x1="237.6" y1="633.9" x2="280" y2="633.9" stroke="#000" stroke-width="0.9"/>
<g transform="translate(280 628.8) scale(0.85 1)"><text x="0" y="3.96" font-size="11" fill="#111" text-anchor="middle" font-weight="bold">290</text></g>
<g transform="translate(287.5 640.2) scale(0.85 1)"><text x="0" y="3.96" font-size="11" fill="#111" text-anchor="middle" font-weight="bold">220+20</text></g>
<line x1="33.0" y1="706.1" x2="40.2" y2="713.3000000000001" stroke="#000" stroke-width="1.9"/>
<line x1="35.6" y1="709.7" x2="41.1" y2="709.7" stroke="#000" stroke-width="0.8"/>
<line x1="207.4" y1="711.1999999999999" x2="214.6" y2="718.4" stroke="#000" stroke-width="1.9"/>
<line x1="210" y1="714.8" x2="215.5" y2="714.8" stroke="#000" stroke-width="0.8"/>
<line x1="207.4" y1="725.1" x2="214.6" y2="732.3000000000001" stroke="#000" stroke-width="1.9"/>
<line x1="210" y1="728.7" x2="215.5" y2="728.7" stroke="#000" stroke-width="0.8"/>
<g transform="translate(204.7 722.3) rotate(-90) scale(0.72 1)"><text x="0" y="5.40" font-size="15" fill="#1a1a1a" text-anchor="middle" font-weight="normal">25</text></g>
<g transform="translate(30.3 807) rotate(-90) scale(0.72 1)"><text x="0" y="5.40" font-size="15" fill="#1a1a1a" text-anchor="middle" font-weight="normal">351</text></g>
<g transform="translate(204.4 817.6) rotate(-90) scale(0.72 1)"><text x="0" y="5.40" font-size="15" fill="#1a1a1a" text-anchor="middle" font-weight="normal">318</text></g>
<rect x="0" y="645" width="7.5" height="68.5" stroke="#000" stroke-width="0.8" fill="none"/>
<circle cx="2" cy="660" r="5" stroke="#000" stroke-width="0.8" fill="none"/>
<circle cx="2" cy="676" r="5" stroke="#000" stroke-width="0.8" fill="none"/>
<rect x="0" y="757.7" width="5" height="140" stroke="#000" stroke-width="0.8" fill="none"/>
<rect x="9" y="906" width="41.5" height="14.5" fill="url(#xh)" stroke="#000" stroke-width="0.9"/>
<rect x="9" y="920.5" width="13.6" height="21" fill="url(#xh)" stroke="#000" stroke-width="0.9"/>
<rect x="0" y="928.6" width="9" height="13.4" fill="url(#xh)" stroke="#000" stroke-width="0.9"/>
<rect x="0" y="942" width="10" height="5" fill="url(#dots)" stroke="#000" stroke-width="0.9"/>
<rect x="22.6" y="920.5" width="5.8" height="27.5" fill="url(#dots)" stroke="#000" stroke-width="0.9"/>
<rect x="22.6" y="920.5" width="27.9" height="4.5" fill="url(#dots)" stroke="#000" stroke-width="0.9"/>
<rect x="212.6" y="905.6" width="47.4" height="19" fill="url(#xh)" stroke="#000" stroke-width="0.9"/>
<rect x="212.6" y="920.6" width="54.1" height="4" fill="url(#dots)" stroke="#000" stroke-width="0.9"/>
<line x1="50.1" y1="908.3" x2="212.6" y2="908.3" stroke="#000" stroke-width="0.8"/>
<path d="M50.1 912.4 L212.6 912.4" fill="none" stroke="#555" stroke-width="0.8" stroke-dasharray="2 1.5"/>
<line x1="50.1" y1="915" x2="212.6" y2="915" stroke="#000" stroke-width="0.8"/>
<line x1="50.1" y1="924.6" x2="212.6" y2="924.6" stroke="#000" stroke-width="0.9"/>
<circle cx="143.5" cy="825.7" r="5" stroke="#000" stroke-width="1" fill="#fff"/>
<path d="M143.5 820.7 A5 5 0 0 1 148.5 825.7 L143.5 825.7 Z" fill="#000" stroke="#000" stroke-width="0"/>
<path d="M143.5 830.7 A5 5 0 0 1 138.5 825.7 L143.5 825.7 Z" fill="#000" stroke="#000" stroke-width="0"/>
<text x="153" y="824.5" font-size="12" fill="#111" text-anchor="start" font-weight="bold">+0,12</text>
<text x="153" y="838" font-size="12" fill="#111" text-anchor="start" font-weight="bold">±0,00</text>
<line x1="150" y1="826.3" x2="188.2" y2="826.3" stroke="#000" stroke-width="0.8"/>
<line x1="0" y1="878.5" x2="266.7" y2="878.5" stroke="#000" stroke-width="0.8"/>
<line x1="4.8999999999999995" y1="881.3" x2="11.3" y2="875.7" stroke="#000" stroke-width="1.9"/>
<line x1="8.1" y1="883.0" x2="8.1" y2="874.0" stroke="#000" stroke-width="0.8"/>
<line x1="19.8" y1="881.3" x2="26.2" y2="875.7" stroke="#000" stroke-width="1.9"/>
<line x1="23" y1="883.0" x2="23" y2="874.0" stroke="#000" stroke-width="0.8"/>
<line x1="243.20000000000002" y1="881.3" x2="249.6" y2="875.7" stroke="#000" stroke-width="1.9"/>
<line x1="246.4" y1="883.0" x2="246.4" y2="874.0" stroke="#000" stroke-width="0.8"/>
<line x1="258.1" y1="881.3" x2="264.5" y2="875.7" stroke="#000" stroke-width="1.9"/>
<line x1="261.3" y1="883.0" x2="261.3" y2="874.0" stroke="#000" stroke-width="0.8"/>
<g transform="translate(16.2 871.8) scale(0.72 1)"><text x="0" y="5.40" font-size="15" fill="#1a1a1a" text-anchor="middle" font-weight="normal">25</text></g>
<g transform="translate(135.4 871.8) scale(0.72 1)"><text x="0" y="5.40" font-size="15" fill="#1a1a1a" text-anchor="middle" font-weight="normal">403</text></g>
<g transform="translate(254.5 871.8) scale(0.72 1)"><text x="0" y="5.40" font-size="15" fill="#1a1a1a" text-anchor="middle" font-weight="normal">25</text></g>
<line x1="0" y1="892" x2="266.7" y2="892" stroke="#000" stroke-width="0.8"/>
<line x1="4.8999999999999995" y1="894.8" x2="11.3" y2="889.2" stroke="#000" stroke-width="1.9"/>
<line x1="8.1" y1="896.5" x2="8.1" y2="887.5" stroke="#000" stroke-width="0.8"/>
<line x1="19.8" y1="894.8" x2="26.2" y2="889.2" stroke="#000" stroke-width="1.9"/>
<line x1="23" y1="896.5" x2="23" y2="887.5" stroke="#000" stroke-width="0.8"/>
<line x1="46.9" y1="894.8" x2="53.300000000000004" y2="889.2" stroke="#000" stroke-width="1.9"/>
<line x1="50.1" y1="896.5" x2="50.1" y2="887.5" stroke="#000" stroke-width="0.8"/>
<line x1="209.4" y1="894.8" x2="215.79999999999998" y2="889.2" stroke="#000" stroke-width="1.9"/>
<line x1="212.6" y1="896.5" x2="212.6" y2="887.5" stroke="#000" stroke-width="0.8"/>
<line x1="243.20000000000002" y1="894.8" x2="249.6" y2="889.2" stroke="#000" stroke-width="1.9"/>
<line x1="246.4" y1="896.5" x2="246.4" y2="887.5" stroke="#000" stroke-width="0.8"/>
<line x1="258.1" y1="894.8" x2="264.5" y2="889.2" stroke="#000" stroke-width="1.9"/>
<line x1="261.3" y1="896.5" x2="261.3" y2="887.5" stroke="#000" stroke-width="0.8"/>
<g transform="translate(16.2 886.6) scale(0.72 1)"><text x="0" y="5.40" font-size="15" fill="#1a1a1a" text-anchor="middle" font-weight="normal">25</text></g>
<g transform="translate(36.6 886.6) scale(0.72 1)"><text x="0" y="5.40" font-size="15" fill="#1a1a1a" text-anchor="middle" font-weight="normal">50</text></g>
<g transform="translate(131.3 886.6) scale(0.72 1)"><text x="0" y="5.40" font-size="15" fill="#1a1a1a" text-anchor="middle" font-weight="normal">290</text></g>
<g transform="translate(229.6 886.6) scale(0.72 1)"><text x="0" y="5.40" font-size="15" fill="#1a1a1a" text-anchor="middle" font-weight="normal">63</text></g>
<g transform="translate(254.5 886.6) scale(0.72 1)"><text x="0" y="5.40" font-size="15" fill="#1a1a1a" text-anchor="middle" font-weight="normal">25</text></g>
<line x1="32.0" y1="908.4" x2="38.400000000000006" y2="902.8000000000001" stroke="#000" stroke-width="1.9"/>
<line x1="35.2" y1="910.1" x2="35.2" y2="901.1" stroke="#000" stroke-width="0.8"/>
<line x1="46.9" y1="908.4" x2="53.300000000000004" y2="902.8000000000001" stroke="#000" stroke-width="1.9"/>
<line x1="50.1" y1="910.1" x2="50.1" y2="901.1" stroke="#000" stroke-width="0.8"/>
<line x1="68.6" y1="908.4" x2="75.0" y2="902.8000000000001" stroke="#000" stroke-width="1.9"/>
<line x1="71.8" y1="910.1" x2="71.8" y2="901.1" stroke="#000" stroke-width="0.8"/>
<line x1="191.8" y1="908.4" x2="198.2" y2="902.8000000000001" stroke="#000" stroke-width="1.9"/>
<line x1="195" y1="910.1" x2="195" y2="901.1" stroke="#000" stroke-width="0.8"/>
<line x1="206.70000000000002" y1="908.4" x2="213.1" y2="902.8000000000001" stroke="#000" stroke-width="1.9"/>
<line x1="209.9" y1="910.1" x2="209.9" y2="901.1" stroke="#000" stroke-width="0.8"/>
<g transform="translate(31.1 913.7) rotate(-90) scale(0.72 1)"><text x="0" y="5.40" font-size="15" fill="#1a1a1a" text-anchor="middle" font-weight="normal">25</text></g>
<g transform="translate(189.6 912.4) rotate(-90) scale(0.72 1)"><text x="0" y="5.40" font-size="15" fill="#1a1a1a" text-anchor="middle" font-weight="normal">25</text></g>
<g transform="translate(205.8 912.4) rotate(-90) scale(0.72 1)"><text x="0" y="5.40" font-size="15" fill="#1a1a1a" text-anchor="middle" font-weight="normal">25</text></g>
<line x1="131.3" y1="896.1" x2="131.3" y2="962.5" stroke="#000" stroke-width="0.9"/>
<g transform="translate(125.9 950.3) rotate(-90) scale(0.85 1)"><text x="0" y="3.96" font-size="11" fill="#111" text-anchor="middle" font-weight="bold">290</text></g>
<g transform="translate(136.7 942.2) rotate(-90) scale(0.85 1)"><text x="0" y="3.96" font-size="11" fill="#111" text-anchor="middle" font-weight="bold">220+20</text></g>
<line x1="0" y1="935.4" x2="305" y2="935.4" stroke="#222" stroke-width="0.8" stroke-dasharray="14 3 2 3"/>
<line x1="0" y1="912" x2="305" y2="912" stroke="#222" stroke-width="0.8" stroke-dasharray="14 3 2 3"/>
<line x1="35.2" y1="825.7" x2="35.2" y2="905.6" stroke="#000" stroke-width="0.8"/>
<path d="M225 783 L235.1 806 L225 830" fill="none" stroke="#000" stroke-width="0.8"/>
<rect x="235.1" y="773" width="3.7" height="67" stroke="#333" stroke-width="0.8" fill="#eee"/>
<circle cx="144.9" cy="997.7" r="10.5" stroke="#e00" stroke-width="1.1" fill="#fff"/>
<g transform="translate(144.9 998.3000000000001) scale(0.85 1)"><text x="0" y="5.58" font-size="15.5" fill="#e00" text-anchor="middle" font-weight="normal">12</text></g>
<g transform="translate(1.5 985) rotate(-90) scale(0.85 1)"><text x="0" y="3.5" font-size="11" fill="#111" font-weight="bold" text-anchor="middle">x=220cm</text></g>
<rect x="8.1" y="946" width="14.9" height="146.3" stroke="#000" stroke-width="1" fill="none"/>
<line x1="10.8" y1="946" x2="10.8" y2="1092.3" stroke="#000" stroke-width="0.7"/>
<line x1="20.3" y1="946" x2="20.3" y2="1092.3" stroke="#000" stroke-width="0.7"/>
<line x1="15.4" y1="946" x2="15.4" y2="1092" stroke="#222" stroke-width="0.7" stroke-dasharray="14 3 2 3"/>
<g transform="translate(127.3 1036.7) scale(0.92 1)"><text x="0" y="0" font-size="12" fill="#f08a1c" font-weight="bold">greda u parapetu 25/70</text></g>
<path d="M105.6 1056.5 L124.6 1038.9 L254.5 1038.9" fill="none" stroke="#333" stroke-width="0.9"/>
<g transform="translate(86.5 1062.5) scale(0.8 1)"><text x="0" y="0" font-size="26" fill="#111">A</text></g>
<path d="M23 1054.9 L247.8 1054.9 L247.8 912" fill="none" stroke="#666" stroke-width="0.7" stroke-dasharray="1 1.2"/>
<path d="M23 1070 L266.7 1070 L266.7 910.8 L300 910.8" fill="none" stroke="#444" stroke-width="1" stroke-dasharray="5 3"/>
<path d="M261.3 1059.8 L278.9 1039.5 L278.9 910.8" fill="none" stroke="#333" stroke-width="0.9"/>
<g transform="translate(289.5 977) rotate(-90) scale(0.92 1)"><text x="0" y="0" font-size="12" fill="#f08a1c" font-weight="bold" text-anchor="middle">greda u parapetu 25/70</text></g>
<path d="M261.3 927 L261.3 1059" fill="none" stroke="#888" stroke-width="0.6" stroke-dasharray="1 1.2"/>
<g opacity="1">
<text x="506" y="584" style="font-family:Liberation Serif" font-size="49" letter-spacing="2" fill="#f7f7f7" stroke="#e4e4e4" stroke-width="0.9">Dogma</text>
<text x="595" y="604" style="font-family:Liberation Serif" font-size="20" fill="#f7f7f7" stroke="#e6e6e6" stroke-width="0.7" letter-spacing="1">nekretnine</text>
<g transform="translate(453.6 562.0) rotate(0)"><path d="M-11 -10 L11 -10 L15 8 L0 16 L-15 8 Z" fill="none" stroke="#e8e8e8" stroke-width="1.2"/></g>
<g transform="translate(477.1 573.3) rotate(51)"><path d="M-11 -10 L11 -10 L15 8 L0 16 L-15 8 Z" fill="none" stroke="#e8e8e8" stroke-width="1.2"/></g>
<g transform="translate(482.8 598.7) rotate(103)"><path d="M-11 -10 L11 -10 L15 8 L0 16 L-15 8 Z" fill="none" stroke="#e8e8e8" stroke-width="1.2"/></g>
<g transform="translate(466.6 619.0) rotate(154)"><path d="M-11 -10 L11 -10 L15 8 L0 16 L-15 8 Z" fill="none" stroke="#e8e8e8" stroke-width="1.2"/></g>
<g transform="translate(440.6 619.0) rotate(206)"><path d="M-11 -10 L11 -10 L15 8 L0 16 L-15 8 Z" fill="none" stroke="#e8e8e8" stroke-width="1.2"/></g>
<g transform="translate(424.4 598.7) rotate(257)"><path d="M-11 -10 L11 -10 L15 8 L0 16 L-15 8 Z" fill="none" stroke="#e8e8e8" stroke-width="1.2"/></g>
<g transform="translate(430.1 573.3) rotate(309)"><path d="M-11 -10 L11 -10 L15 8 L0 16 L-15 8 Z" fill="none" stroke="#e8e8e8" stroke-width="1.2"/></g>
<circle cx="453.6" cy="592" r="14" fill="none" stroke="#ececec" stroke-width="1"/>
</g>
</svg></body></html>
